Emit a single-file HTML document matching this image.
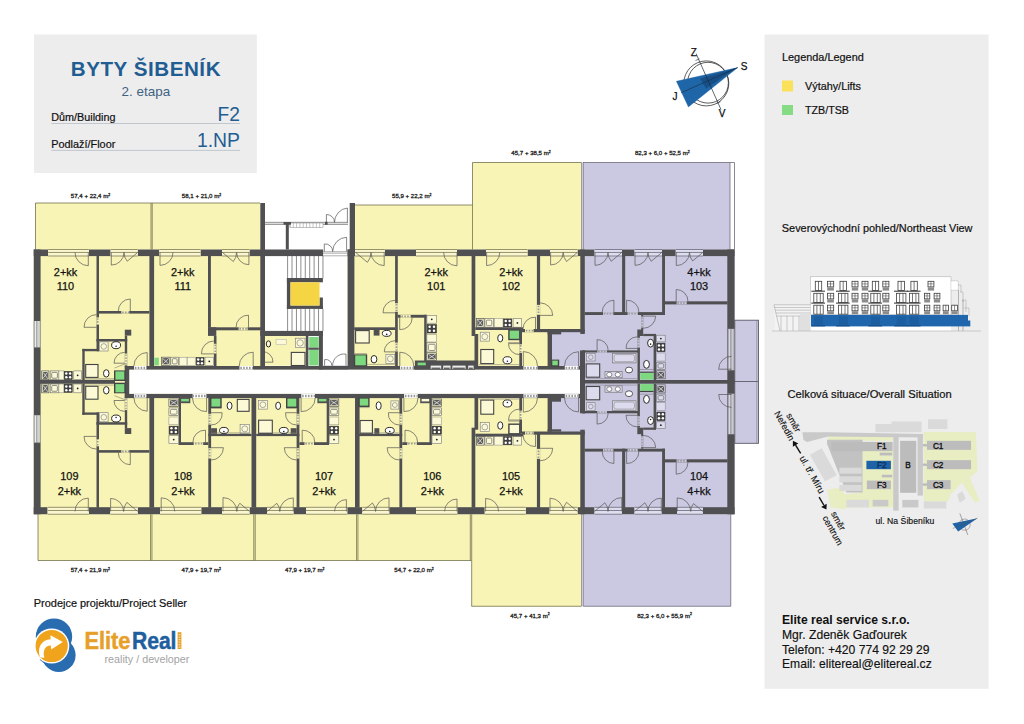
<!DOCTYPE html>
<html><head><meta charset="utf-8"><title>Byty Šibeník</title><style>html,body{margin:0;padding:0;background:#fff}svg{display:block}</style></head><body>
<svg width="1024" height="724" viewBox="0 0 1024 724" font-family="'Liberation Sans', sans-serif">
<rect width="1024" height="724" fill="#fff"/>
<rect x="34.00" y="34.50" width="222.80" height="138.50" fill="#ededed" />
<text x="70.80" y="76.00" font-size="20.6" fill="#1f5d92" font-weight="bold" textLength="149.70" lengthAdjust="spacing" >BYTY ŠIBENÍK</text>
<text x="121.60" y="95.60" font-size="13" fill="#3f6283" font-weight="normal" textLength="48.60" lengthAdjust="spacingAndGlyphs" >2. etapa</text>
<text x="51.30" y="120.80" font-size="10.85" fill="#111" font-weight="normal" textLength="64.20" lengthAdjust="spacingAndGlyphs" stroke="#111" stroke-width="0.2">Dům/Building</text>
<text x="217.60" y="120.70" font-size="19.6" fill="#1f5d92" font-weight="normal" textLength="22.40" lengthAdjust="spacingAndGlyphs" >F2</text>
<line x1="51.30" y1="123.50" x2="240.00" y2="123.50" stroke="#b4bcc6" stroke-width="0.8" />
<text x="51.30" y="147.50" font-size="10.85" fill="#111" font-weight="normal" textLength="64.00" lengthAdjust="spacingAndGlyphs" stroke="#111" stroke-width="0.2">Podlaží/Floor</text>
<text x="196.90" y="147.40" font-size="19.6" fill="#1f5d92" font-weight="normal" textLength="43.10" lengthAdjust="spacingAndGlyphs" >1.NP</text>
<line x1="51.30" y1="150.40" x2="240.00" y2="150.40" stroke="#b4bcc6" stroke-width="0.8" />
<rect x="764.50" y="34.50" width="224.10" height="654.30" fill="#ededed" />
<text x="782.00" y="61.30" font-size="10.9" fill="#111" font-weight="normal" textLength="81.80" lengthAdjust="spacingAndGlyphs" stroke="#111" stroke-width="0.2">Legenda/Legend</text>
<rect x="782.00" y="80.50" width="11.00" height="11.00" fill="#fbe15a" />
<text x="805.00" y="89.60" font-size="10.9" fill="#111" font-weight="normal" textLength="56.00" lengthAdjust="spacingAndGlyphs" stroke="#111" stroke-width="0.2">Výtahy/Lifts</text>
<rect x="782.00" y="105.00" width="11.00" height="10.00" fill="#85dc85" />
<text x="805.00" y="113.80" font-size="10.9" fill="#111" font-weight="normal" textLength="44.00" lengthAdjust="spacingAndGlyphs" stroke="#111" stroke-width="0.2">TZB/TSB</text>
<text x="781.80" y="231.80" font-size="10.9" fill="#111" font-weight="normal" textLength="190.70" lengthAdjust="spacingAndGlyphs" stroke="#111" stroke-width="0.2">Severovýchodní pohled/Northeast View</text>
<text x="787.50" y="397.80" font-size="11.1" fill="#111" font-weight="normal" textLength="164.30" lengthAdjust="spacingAndGlyphs" stroke="#111" stroke-width="0.2">Celková situace/Overall Situation</text>
<text x="782.00" y="624.40" font-size="12.14" fill="#111" font-weight="bold" textLength="127.70" lengthAdjust="spacingAndGlyphs" >Elite real service s.r.o.</text>
<text x="782.00" y="638.90" font-size="12.14" fill="#111" font-weight="normal" textLength="124.80" lengthAdjust="spacingAndGlyphs" stroke="#111" stroke-width="0.15">Mgr. Zdeněk Gaďourek</text>
<text x="782.00" y="653.50" font-size="12.14" fill="#111" font-weight="normal" textLength="147.60" lengthAdjust="spacingAndGlyphs" stroke="#111" stroke-width="0.15">Telefon: +420 774 92 29 29</text>
<text x="782.00" y="667.90" font-size="12.14" fill="#111" font-weight="normal" textLength="149.70" lengthAdjust="spacingAndGlyphs" stroke="#111" stroke-width="0.15">Email: elitereal@elitereal.cz</text>
<circle cx="706.30" cy="83.40" r="22.50" fill="none" stroke="#333" stroke-width="0.8"/>
<circle cx="708.00" cy="82.70" r="20.40" fill="none" stroke="#333" stroke-width="0.8"/>
<path d="M737.7,67.6 L676.4,81.3 L688.4,106.9 Z" fill="#1f66a8" stroke="#1f66a8" stroke-width="0.4" />
<path d="M737.7,67.6 L700,78.5 L706,88.5 Z" fill="#174f88" stroke="none" stroke-width="0" />
<line x1="696.10" y1="53.70" x2="721.00" y2="109.60" stroke="#1a2a3a" stroke-width="0.7" />
<line x1="695.50" y1="60.50" x2="699.50" y2="58.80" stroke="#1a2a3a" stroke-width="0.6" />
<line x1="716.50" y1="103.50" x2="720.50" y2="101.80" stroke="#1a2a3a" stroke-width="0.6" />
<line x1="681.10" y1="92.80" x2="737.70" y2="67.60" stroke="#1a2a3a" stroke-width="0.6" />
<text x="693.80" y="55.80" font-size="10" text-anchor="middle" fill="#111" font-weight="normal" stroke="#111" stroke-width="0.25">Z</text>
<text x="744.20" y="69.50" font-size="10" text-anchor="middle" fill="#111" font-weight="normal" stroke="#111" stroke-width="0.25">S</text>
<text x="674.90" y="100.20" font-size="10" text-anchor="middle" fill="#111" font-weight="normal" stroke="#111" stroke-width="0.25">J</text>
<text x="722.20" y="117.00" font-size="10" text-anchor="middle" fill="#111" font-weight="normal" stroke="#111" stroke-width="0.25">V</text>
<rect x="35.50" y="203.00" width="224.50" height="46.50" fill="#f8f4b5" />
<rect x="354.75" y="205.00" width="117.75" height="44.50" fill="#f8f4b5" />
<rect x="472.50" y="162.50" width="109.00" height="87.00" fill="#f8f4b5" />
<rect x="583.00" y="162.50" width="147.00" height="87.00" fill="#cbc9e1" />
<rect x="38.00" y="514.25" width="433.50" height="46.25" fill="#f8f4b5" />
<rect x="471.50" y="514.25" width="110.00" height="92.00" fill="#f8f4b5" />
<rect x="583.25" y="514.25" width="147.50" height="92.00" fill="#cbc9e1" />
<rect x="33.75" y="249.50" width="547.75" height="264.75" fill="#f8f4b5" />
<rect x="581.50" y="249.50" width="153.00" height="264.75" fill="#cbc9e1" />
<rect x="549.00" y="330.00" width="36.00" height="103.70" fill="#cbc9e1" />
<rect x="734.50" y="320.00" width="24.00" height="123.50" fill="#cbc9e1" />
<rect x="265.00" y="203.00" width="82.60" height="163.00" fill="#fff" />
<rect x="262.50" y="336.00" width="43.30" height="29.70" fill="#f8f4b5" />
<rect x="129.20" y="369.50" width="450.80" height="24.40" fill="#fff" />
<line x1="35.50" y1="203.00" x2="260.00" y2="203.00" stroke="#74724c" stroke-width="0.8" />
<line x1="35.50" y1="203.00" x2="35.50" y2="249.50" stroke="#74724c" stroke-width="0.8" />
<line x1="151.00" y1="203.00" x2="151.00" y2="249.50" stroke="#74724c" stroke-width="0.8" />
<line x1="152.20" y1="203.00" x2="152.20" y2="249.50" stroke="#74724c" stroke-width="0.8" />
<line x1="354.75" y1="205.00" x2="472.50" y2="205.00" stroke="#74724c" stroke-width="0.8" />
<line x1="472.50" y1="162.50" x2="472.50" y2="249.50" stroke="#74724c" stroke-width="0.8" />
<line x1="472.50" y1="162.50" x2="581.50" y2="162.50" stroke="#74724c" stroke-width="0.8" />
<line x1="583.00" y1="162.50" x2="734.50" y2="162.50" stroke="#6c6c78" stroke-width="0.8" />
<line x1="734.50" y1="162.50" x2="734.50" y2="249.50" stroke="#6c6c78" stroke-width="0.8" />
<line x1="730.00" y1="162.50" x2="730.00" y2="249.50" stroke="#6c6c78" stroke-width="0.8" />
<line x1="581.70" y1="162.50" x2="581.70" y2="249.50" stroke="#6c6c78" stroke-width="0.8" />
<line x1="583.20" y1="162.50" x2="583.20" y2="249.50" stroke="#6c6c78" stroke-width="0.8" />
<line x1="38.00" y1="514.25" x2="38.00" y2="560.50" stroke="#74724c" stroke-width="0.8" />
<line x1="38.00" y1="560.50" x2="471.50" y2="560.50" stroke="#74724c" stroke-width="0.8" />
<line x1="150.55" y1="514.25" x2="150.55" y2="560.50" stroke="#74724c" stroke-width="0.8" />
<line x1="151.95" y1="514.25" x2="151.95" y2="560.50" stroke="#74724c" stroke-width="0.8" />
<line x1="253.80" y1="514.25" x2="253.80" y2="560.50" stroke="#74724c" stroke-width="0.8" />
<line x1="255.20" y1="514.25" x2="255.20" y2="560.50" stroke="#74724c" stroke-width="0.8" />
<line x1="356.55" y1="514.25" x2="356.55" y2="560.50" stroke="#74724c" stroke-width="0.8" />
<line x1="357.95" y1="514.25" x2="357.95" y2="560.50" stroke="#74724c" stroke-width="0.8" />
<line x1="470.30" y1="514.25" x2="470.30" y2="560.50" stroke="#74724c" stroke-width="0.8" />
<line x1="471.70" y1="514.25" x2="471.70" y2="606.25" stroke="#74724c" stroke-width="0.8" />
<line x1="471.50" y1="606.25" x2="581.50" y2="606.25" stroke="#74724c" stroke-width="0.8" />
<line x1="581.70" y1="514.25" x2="581.70" y2="606.25" stroke="#6c6c78" stroke-width="0.8" />
<line x1="583.20" y1="514.25" x2="583.20" y2="606.25" stroke="#6c6c78" stroke-width="0.8" />
<line x1="583.25" y1="606.25" x2="730.75" y2="606.25" stroke="#6c6c78" stroke-width="0.8" />
<line x1="730.75" y1="514.25" x2="730.75" y2="606.25" stroke="#6c6c78" stroke-width="0.8" />
<rect x="734.80" y="320.20" width="23.70" height="123.10" fill="none" stroke="#5c5c68" stroke-width="0.9" rx="0"/>
<line x1="734.50" y1="381.50" x2="758.50" y2="381.50" stroke="#5c5c68" stroke-width="0.9" />
<line x1="756.80" y1="320.00" x2="756.80" y2="443.50" stroke="#6a6a72" stroke-width="0.5" />
<line x1="265.00" y1="222.40" x2="348.00" y2="222.40" stroke="#777" stroke-width="0.6" />
<line x1="265.00" y1="224.40" x2="348.00" y2="224.40" stroke="#777" stroke-width="0.6" />
<rect x="265.00" y="222.40" width="83.00" height="2.00" fill="#e4e4e4" />
<line x1="265.00" y1="222.40" x2="348.00" y2="222.40" stroke="#777" stroke-width="0.6" />
<line x1="265.00" y1="224.40" x2="348.00" y2="224.40" stroke="#777" stroke-width="0.6" />
<rect x="290.00" y="223.00" width="33.00" height="4.50" fill="#fff" stroke="#888" stroke-width="0.5" rx="0"/>
<line x1="290.00" y1="223.00" x2="290.00" y2="227.50" stroke="#888" stroke-width="0.5" />
<line x1="293.30" y1="223.00" x2="293.30" y2="227.50" stroke="#888" stroke-width="0.5" />
<line x1="296.60" y1="223.00" x2="296.60" y2="227.50" stroke="#888" stroke-width="0.5" />
<line x1="299.90" y1="223.00" x2="299.90" y2="227.50" stroke="#888" stroke-width="0.5" />
<line x1="303.20" y1="223.00" x2="303.20" y2="227.50" stroke="#888" stroke-width="0.5" />
<line x1="306.50" y1="223.00" x2="306.50" y2="227.50" stroke="#888" stroke-width="0.5" />
<line x1="309.80" y1="223.00" x2="309.80" y2="227.50" stroke="#888" stroke-width="0.5" />
<line x1="313.10" y1="223.00" x2="313.10" y2="227.50" stroke="#888" stroke-width="0.5" />
<line x1="316.40" y1="223.00" x2="316.40" y2="227.50" stroke="#888" stroke-width="0.5" />
<line x1="319.70" y1="223.00" x2="319.70" y2="227.50" stroke="#888" stroke-width="0.5" />
<rect x="285.80" y="222.40" width="3.00" height="27.10" fill="#505052" />
<rect x="283.50" y="222.00" width="7.50" height="2.60" fill="#505052" />
<rect x="325.00" y="221.80" width="2.60" height="3.00" fill="#505052" />
<path d="M347.40,222.40 L347.40,208.00 A14.40,14.40 0 0 0 334.50,222.40" fill="none" stroke="#555" stroke-width="0.7" />
<path d="M326.40,222.40 L326.40,214.50 A7.90,7.90 0 0 1 334.50,222.40" fill="none" stroke="#555" stroke-width="0.7" />
<rect x="323.10" y="251.50" width="24.50" height="4.50" fill="#fff" />
<line x1="323.10" y1="251.70" x2="347.60" y2="251.70" stroke="#777" stroke-width="0.6" />
<line x1="323.10" y1="253.20" x2="347.60" y2="253.20" stroke="#777" stroke-width="0.6" />
<line x1="323.10" y1="255.80" x2="347.60" y2="255.80" stroke="#777" stroke-width="0.6" />
<path d="M346.60,251.50 L346.60,237.30 A14.20,14.20 0 0 0 332.70,251.50" fill="none" stroke="#555" stroke-width="0.7" />
<path d="M324.30,251.50 L324.30,244.00 A7.50,7.50 0 0 1 332.70,251.50" fill="none" stroke="#555" stroke-width="0.7" />
<line x1="287.60" y1="256.00" x2="287.60" y2="278.30" stroke="#707070" stroke-width="0.8" />
<line x1="287.60" y1="308.90" x2="287.60" y2="331.00" stroke="#707070" stroke-width="0.8" />
<line x1="292.02" y1="256.00" x2="292.02" y2="278.30" stroke="#707070" stroke-width="0.8" />
<line x1="292.02" y1="308.90" x2="292.02" y2="331.00" stroke="#707070" stroke-width="0.8" />
<line x1="296.44" y1="256.00" x2="296.44" y2="278.30" stroke="#707070" stroke-width="0.8" />
<line x1="296.44" y1="308.90" x2="296.44" y2="331.00" stroke="#707070" stroke-width="0.8" />
<line x1="300.86" y1="256.00" x2="300.86" y2="278.30" stroke="#707070" stroke-width="0.8" />
<line x1="300.86" y1="308.90" x2="300.86" y2="331.00" stroke="#707070" stroke-width="0.8" />
<line x1="305.28" y1="256.00" x2="305.28" y2="278.30" stroke="#707070" stroke-width="0.8" />
<line x1="305.28" y1="308.90" x2="305.28" y2="331.00" stroke="#707070" stroke-width="0.8" />
<line x1="309.70" y1="256.00" x2="309.70" y2="278.30" stroke="#707070" stroke-width="0.8" />
<line x1="309.70" y1="308.90" x2="309.70" y2="331.00" stroke="#707070" stroke-width="0.8" />
<line x1="314.12" y1="256.00" x2="314.12" y2="278.30" stroke="#707070" stroke-width="0.8" />
<line x1="314.12" y1="308.90" x2="314.12" y2="331.00" stroke="#707070" stroke-width="0.8" />
<line x1="318.54" y1="256.00" x2="318.54" y2="278.30" stroke="#707070" stroke-width="0.8" />
<line x1="318.54" y1="308.90" x2="318.54" y2="331.00" stroke="#707070" stroke-width="0.8" />
<line x1="322.96" y1="256.00" x2="322.96" y2="278.30" stroke="#707070" stroke-width="0.8" />
<line x1="322.96" y1="308.90" x2="322.96" y2="331.00" stroke="#707070" stroke-width="0.8" />
<rect x="286.90" y="278.00" width="36.00" height="4.30" fill="#505052" />
<rect x="286.90" y="278.00" width="3.60" height="30.90" fill="#505052" />
<rect x="286.90" y="305.50" width="36.00" height="3.40" fill="#505052" />
<rect x="319.50" y="297.50" width="3.40" height="11.40" fill="#505052" />
<rect x="290.50" y="282.30" width="29.00" height="23.20" fill="#f6d545" />
<rect x="260.30" y="330.90" width="62.60" height="5.10" fill="#505052" />
<rect x="318.80" y="331.00" width="4.10" height="38.60" fill="#505052" />
<rect x="305.80" y="336.00" width="2.60" height="30.00" fill="#505052" />
<rect x="309.20" y="336.90" width="9.40" height="10.70" fill="#7dd87f" />
<rect x="309.20" y="349.80" width="9.40" height="15.70" fill="#7dd87f" />
<rect x="308.40" y="347.60" width="10.40" height="2.20" fill="#555" />
<ellipse cx="268.45" cy="343.90" rx="2.15" ry="3.10" fill="#fbf9d6" stroke="#2a2a2a" stroke-width="1.0"/>
<rect x="276.00" y="339.60" width="10.20" height="5.10" fill="#fbf9d6" stroke="#aaa" stroke-width="0.5" rx="0"/>
<rect x="295.30" y="338.20" width="9.70" height="9.40" fill="#fbf9d6" stroke="#777" stroke-width="0.6" rx="0"/>
<circle cx="300.15" cy="342.90" r="3.20" fill="none" stroke="#777" stroke-width="0.6"/>
<rect x="291.30" y="352.40" width="13.70" height="13.10" fill="#fbf9d6" stroke="#444" stroke-width="1.1" rx="0"/>
<rect x="322.90" y="365.70" width="24.90" height="4.10" fill="#fff" />
<line x1="322.90" y1="366.00" x2="347.80" y2="366.00" stroke="#777" stroke-width="0.5" />
<line x1="322.90" y1="369.40" x2="347.80" y2="369.40" stroke="#777" stroke-width="0.5" />
<path d="M346.00,365.70 L346.00,354.10 A11.60,11.60 0 0 0 332.60,365.70" fill="none" stroke="#555" stroke-width="0.7" />
<path d="M324.60,365.70 L324.60,359.60 A6.10,6.10 0 0 1 331.90,365.70" fill="none" stroke="#555" stroke-width="0.7" />
<rect x="260.30" y="353.00" width="4.70" height="9.20" fill="#f8f4b5" />
<line x1="262.65" y1="353.80" x2="262.65" y2="362.20" stroke="#9a9a9a" stroke-width="2.819999999999993" stroke-dasharray="1.6 1.3"/>
<path d="M262.60,362.20 L273.00,362.20 A10.40,10.40 0 0 0 262.60,351.60" fill="none" stroke="#555" stroke-width="0.7" />
<rect x="33.75" y="249.50" width="14.45" height="6.60" fill="#505052" />
<rect x="88.90" y="249.50" width="21.70" height="6.60" fill="#505052" />
<rect x="137.70" y="249.50" width="21.60" height="6.60" fill="#505052" />
<rect x="200.50" y="249.50" width="21.50" height="6.60" fill="#505052" />
<rect x="249.50" y="249.50" width="73.60" height="6.60" fill="#505052" />
<rect x="347.60" y="249.50" width="7.40" height="6.60" fill="#505052" />
<rect x="384.75" y="249.50" width="31.25" height="6.60" fill="#505052" />
<rect x="457.00" y="249.50" width="29.00" height="6.60" fill="#505052" />
<rect x="527.50" y="249.50" width="22.50" height="6.60" fill="#505052" />
<rect x="577.50" y="249.50" width="17.00" height="6.60" fill="#505052" />
<rect x="622.00" y="249.50" width="12.50" height="6.60" fill="#505052" />
<rect x="662.00" y="249.50" width="13.75" height="6.60" fill="#505052" />
<rect x="703.00" y="249.50" width="31.50" height="6.60" fill="#505052" />
<rect x="48.20" y="249.10" width="40.70" height="7.30" fill="#f9f6d0" />
<line x1="48.20" y1="249.50" x2="88.90" y2="249.50" stroke="#7c7a50" stroke-width="0.8" />
<line x1="48.20" y1="252.45" x2="88.90" y2="252.45" stroke="#7c7a50" stroke-width="0.8" />
<line x1="48.20" y1="256.00" x2="88.90" y2="256.00" stroke="#7c7a50" stroke-width="0.8" />
<rect x="110.60" y="249.10" width="27.10" height="7.30" fill="#f9f6d0" />
<line x1="110.60" y1="249.50" x2="137.70" y2="249.50" stroke="#7c7a50" stroke-width="0.8" />
<line x1="110.60" y1="252.45" x2="137.70" y2="252.45" stroke="#7c7a50" stroke-width="0.8" />
<line x1="110.60" y1="256.00" x2="137.70" y2="256.00" stroke="#7c7a50" stroke-width="0.8" />
<rect x="159.30" y="249.10" width="41.20" height="7.30" fill="#f9f6d0" />
<line x1="159.30" y1="249.50" x2="200.50" y2="249.50" stroke="#7c7a50" stroke-width="0.8" />
<line x1="159.30" y1="252.45" x2="200.50" y2="252.45" stroke="#7c7a50" stroke-width="0.8" />
<line x1="159.30" y1="256.00" x2="200.50" y2="256.00" stroke="#7c7a50" stroke-width="0.8" />
<rect x="222.00" y="249.10" width="27.50" height="7.30" fill="#f9f6d0" />
<line x1="222.00" y1="249.50" x2="249.50" y2="249.50" stroke="#7c7a50" stroke-width="0.8" />
<line x1="222.00" y1="252.45" x2="249.50" y2="252.45" stroke="#7c7a50" stroke-width="0.8" />
<line x1="222.00" y1="256.00" x2="249.50" y2="256.00" stroke="#7c7a50" stroke-width="0.8" />
<rect x="355.00" y="249.10" width="29.75" height="7.30" fill="#f9f6d0" />
<line x1="355.00" y1="249.50" x2="384.75" y2="249.50" stroke="#7c7a50" stroke-width="0.8" />
<line x1="355.00" y1="252.45" x2="384.75" y2="252.45" stroke="#7c7a50" stroke-width="0.8" />
<line x1="355.00" y1="256.00" x2="384.75" y2="256.00" stroke="#7c7a50" stroke-width="0.8" />
<rect x="416.00" y="249.10" width="41.00" height="7.30" fill="#f9f6d0" />
<line x1="416.00" y1="249.50" x2="457.00" y2="249.50" stroke="#7c7a50" stroke-width="0.8" />
<line x1="416.00" y1="252.45" x2="457.00" y2="252.45" stroke="#7c7a50" stroke-width="0.8" />
<line x1="416.00" y1="256.00" x2="457.00" y2="256.00" stroke="#7c7a50" stroke-width="0.8" />
<rect x="486.00" y="249.10" width="41.50" height="7.30" fill="#f9f6d0" />
<line x1="486.00" y1="249.50" x2="527.50" y2="249.50" stroke="#7c7a50" stroke-width="0.8" />
<line x1="486.00" y1="252.45" x2="527.50" y2="252.45" stroke="#7c7a50" stroke-width="0.8" />
<line x1="486.00" y1="256.00" x2="527.50" y2="256.00" stroke="#7c7a50" stroke-width="0.8" />
<rect x="550.00" y="249.10" width="27.50" height="7.30" fill="#f9f6d0" />
<line x1="550.00" y1="249.50" x2="577.50" y2="249.50" stroke="#7c7a50" stroke-width="0.8" />
<line x1="550.00" y1="252.45" x2="577.50" y2="252.45" stroke="#7c7a50" stroke-width="0.8" />
<line x1="550.00" y1="256.00" x2="577.50" y2="256.00" stroke="#7c7a50" stroke-width="0.8" />
<rect x="594.50" y="249.10" width="27.50" height="7.30" fill="#dfdeee" />
<line x1="594.50" y1="249.50" x2="622.00" y2="249.50" stroke="#66667a" stroke-width="0.8" />
<line x1="594.50" y1="252.45" x2="622.00" y2="252.45" stroke="#66667a" stroke-width="0.8" />
<line x1="594.50" y1="256.00" x2="622.00" y2="256.00" stroke="#66667a" stroke-width="0.8" />
<rect x="634.50" y="249.10" width="27.50" height="7.30" fill="#dfdeee" />
<line x1="634.50" y1="249.50" x2="662.00" y2="249.50" stroke="#66667a" stroke-width="0.8" />
<line x1="634.50" y1="252.45" x2="662.00" y2="252.45" stroke="#66667a" stroke-width="0.8" />
<line x1="634.50" y1="256.00" x2="662.00" y2="256.00" stroke="#66667a" stroke-width="0.8" />
<rect x="675.75" y="249.10" width="27.25" height="7.30" fill="#dfdeee" />
<line x1="675.75" y1="249.50" x2="703.00" y2="249.50" stroke="#66667a" stroke-width="0.8" />
<line x1="675.75" y1="252.45" x2="703.00" y2="252.45" stroke="#66667a" stroke-width="0.8" />
<line x1="675.75" y1="256.00" x2="703.00" y2="256.00" stroke="#66667a" stroke-width="0.8" />
<rect x="33.75" y="507.20" width="13.85" height="7.05" fill="#505052" />
<rect x="88.90" y="507.20" width="21.40" height="7.05" fill="#505052" />
<rect x="137.70" y="507.20" width="22.30" height="7.05" fill="#505052" />
<rect x="201.25" y="507.20" width="20.75" height="7.05" fill="#505052" />
<rect x="249.50" y="507.20" width="17.50" height="7.05" fill="#505052" />
<rect x="293.50" y="507.20" width="12.50" height="7.05" fill="#505052" />
<rect x="347.25" y="507.20" width="15.00" height="7.05" fill="#505052" />
<rect x="389.25" y="507.20" width="26.75" height="7.05" fill="#505052" />
<rect x="457.25" y="507.20" width="27.50" height="7.05" fill="#505052" />
<rect x="525.75" y="507.20" width="23.75" height="7.05" fill="#505052" />
<rect x="577.50" y="507.20" width="17.00" height="7.05" fill="#505052" />
<rect x="622.00" y="507.20" width="12.50" height="7.05" fill="#505052" />
<rect x="661.50" y="507.20" width="15.50" height="7.05" fill="#505052" />
<rect x="703.00" y="507.20" width="31.50" height="7.05" fill="#505052" />
<rect x="47.60" y="506.90" width="41.30" height="7.75" fill="#f9f6d0" />
<line x1="47.60" y1="507.30" x2="88.90" y2="507.30" stroke="#7c7a50" stroke-width="0.8" />
<line x1="47.60" y1="510.47" x2="88.90" y2="510.47" stroke="#7c7a50" stroke-width="0.8" />
<line x1="47.60" y1="514.25" x2="88.90" y2="514.25" stroke="#7c7a50" stroke-width="0.8" />
<rect x="110.30" y="506.90" width="27.40" height="7.75" fill="#f9f6d0" />
<line x1="110.30" y1="507.30" x2="137.70" y2="507.30" stroke="#7c7a50" stroke-width="0.8" />
<line x1="110.30" y1="510.47" x2="137.70" y2="510.47" stroke="#7c7a50" stroke-width="0.8" />
<line x1="110.30" y1="514.25" x2="137.70" y2="514.25" stroke="#7c7a50" stroke-width="0.8" />
<rect x="160.00" y="506.90" width="41.25" height="7.75" fill="#f9f6d0" />
<line x1="160.00" y1="507.30" x2="201.25" y2="507.30" stroke="#7c7a50" stroke-width="0.8" />
<line x1="160.00" y1="510.47" x2="201.25" y2="510.47" stroke="#7c7a50" stroke-width="0.8" />
<line x1="160.00" y1="514.25" x2="201.25" y2="514.25" stroke="#7c7a50" stroke-width="0.8" />
<rect x="222.00" y="506.90" width="27.50" height="7.75" fill="#f9f6d0" />
<line x1="222.00" y1="507.30" x2="249.50" y2="507.30" stroke="#7c7a50" stroke-width="0.8" />
<line x1="222.00" y1="510.47" x2="249.50" y2="510.47" stroke="#7c7a50" stroke-width="0.8" />
<line x1="222.00" y1="514.25" x2="249.50" y2="514.25" stroke="#7c7a50" stroke-width="0.8" />
<rect x="267.00" y="506.90" width="26.50" height="7.75" fill="#f9f6d0" />
<line x1="267.00" y1="507.30" x2="293.50" y2="507.30" stroke="#7c7a50" stroke-width="0.8" />
<line x1="267.00" y1="510.47" x2="293.50" y2="510.47" stroke="#7c7a50" stroke-width="0.8" />
<line x1="267.00" y1="514.25" x2="293.50" y2="514.25" stroke="#7c7a50" stroke-width="0.8" />
<rect x="306.00" y="506.90" width="41.25" height="7.75" fill="#f9f6d0" />
<line x1="306.00" y1="507.30" x2="347.25" y2="507.30" stroke="#7c7a50" stroke-width="0.8" />
<line x1="306.00" y1="510.47" x2="347.25" y2="510.47" stroke="#7c7a50" stroke-width="0.8" />
<line x1="306.00" y1="514.25" x2="347.25" y2="514.25" stroke="#7c7a50" stroke-width="0.8" />
<rect x="362.25" y="506.90" width="27.00" height="7.75" fill="#f9f6d0" />
<line x1="362.25" y1="507.30" x2="389.25" y2="507.30" stroke="#7c7a50" stroke-width="0.8" />
<line x1="362.25" y1="510.47" x2="389.25" y2="510.47" stroke="#7c7a50" stroke-width="0.8" />
<line x1="362.25" y1="514.25" x2="389.25" y2="514.25" stroke="#7c7a50" stroke-width="0.8" />
<rect x="416.00" y="506.90" width="41.25" height="7.75" fill="#f9f6d0" />
<line x1="416.00" y1="507.30" x2="457.25" y2="507.30" stroke="#7c7a50" stroke-width="0.8" />
<line x1="416.00" y1="510.47" x2="457.25" y2="510.47" stroke="#7c7a50" stroke-width="0.8" />
<line x1="416.00" y1="514.25" x2="457.25" y2="514.25" stroke="#7c7a50" stroke-width="0.8" />
<rect x="484.75" y="506.90" width="41.00" height="7.75" fill="#f9f6d0" />
<line x1="484.75" y1="507.30" x2="525.75" y2="507.30" stroke="#7c7a50" stroke-width="0.8" />
<line x1="484.75" y1="510.47" x2="525.75" y2="510.47" stroke="#7c7a50" stroke-width="0.8" />
<line x1="484.75" y1="514.25" x2="525.75" y2="514.25" stroke="#7c7a50" stroke-width="0.8" />
<rect x="549.50" y="506.90" width="28.00" height="7.75" fill="#f9f6d0" />
<line x1="549.50" y1="507.30" x2="577.50" y2="507.30" stroke="#7c7a50" stroke-width="0.8" />
<line x1="549.50" y1="510.47" x2="577.50" y2="510.47" stroke="#7c7a50" stroke-width="0.8" />
<line x1="549.50" y1="514.25" x2="577.50" y2="514.25" stroke="#7c7a50" stroke-width="0.8" />
<rect x="594.50" y="506.90" width="27.50" height="7.75" fill="#dfdeee" />
<line x1="594.50" y1="507.30" x2="622.00" y2="507.30" stroke="#66667a" stroke-width="0.8" />
<line x1="594.50" y1="510.47" x2="622.00" y2="510.47" stroke="#66667a" stroke-width="0.8" />
<line x1="594.50" y1="514.25" x2="622.00" y2="514.25" stroke="#66667a" stroke-width="0.8" />
<rect x="634.50" y="506.90" width="27.00" height="7.75" fill="#dfdeee" />
<line x1="634.50" y1="507.30" x2="661.50" y2="507.30" stroke="#66667a" stroke-width="0.8" />
<line x1="634.50" y1="510.47" x2="661.50" y2="510.47" stroke="#66667a" stroke-width="0.8" />
<line x1="634.50" y1="514.25" x2="661.50" y2="514.25" stroke="#66667a" stroke-width="0.8" />
<rect x="677.00" y="506.90" width="26.00" height="7.75" fill="#dfdeee" />
<line x1="677.00" y1="507.30" x2="703.00" y2="507.30" stroke="#66667a" stroke-width="0.8" />
<line x1="677.00" y1="510.47" x2="703.00" y2="510.47" stroke="#66667a" stroke-width="0.8" />
<line x1="677.00" y1="514.25" x2="703.00" y2="514.25" stroke="#66667a" stroke-width="0.8" />
<rect x="33.75" y="249.50" width="6.85" height="264.75" fill="#505052" />
<rect x="33.90" y="321.00" width="6.50" height="26.30" fill="#fbfbf4" />
<line x1="34.30" y1="321.00" x2="34.30" y2="347.30" stroke="#77777a" stroke-width="0.7" />
<line x1="36.37" y1="321.00" x2="36.37" y2="347.30" stroke="#77777a" stroke-width="0.7" />
<line x1="37.93" y1="321.00" x2="37.93" y2="347.30" stroke="#77777a" stroke-width="0.7" />
<line x1="40.00" y1="321.00" x2="40.00" y2="347.30" stroke="#77777a" stroke-width="0.7" />
<rect x="33.90" y="415.30" width="6.50" height="27.20" fill="#fbfbf4" />
<line x1="34.30" y1="415.30" x2="34.30" y2="442.50" stroke="#77777a" stroke-width="0.7" />
<line x1="36.37" y1="415.30" x2="36.37" y2="442.50" stroke="#77777a" stroke-width="0.7" />
<line x1="37.93" y1="415.30" x2="37.93" y2="442.50" stroke="#77777a" stroke-width="0.7" />
<line x1="40.00" y1="415.30" x2="40.00" y2="442.50" stroke="#77777a" stroke-width="0.7" />
<rect x="727.30" y="249.50" width="7.30" height="264.75" fill="#505052" />
<rect x="727.90" y="328.90" width="6.40" height="41.30" fill="#e4e3f2" />
<line x1="728.30" y1="328.90" x2="728.30" y2="370.20" stroke="#77777a" stroke-width="0.7" />
<line x1="730.33" y1="328.90" x2="730.33" y2="370.20" stroke="#77777a" stroke-width="0.7" />
<line x1="731.87" y1="328.90" x2="731.87" y2="370.20" stroke="#77777a" stroke-width="0.7" />
<line x1="733.90" y1="328.90" x2="733.90" y2="370.20" stroke="#77777a" stroke-width="0.7" />
<rect x="727.90" y="393.80" width="6.40" height="40.40" fill="#e4e3f2" />
<line x1="728.30" y1="393.80" x2="728.30" y2="434.20" stroke="#77777a" stroke-width="0.7" />
<line x1="730.33" y1="393.80" x2="730.33" y2="434.20" stroke="#77777a" stroke-width="0.7" />
<line x1="731.87" y1="393.80" x2="731.87" y2="434.20" stroke="#77777a" stroke-width="0.7" />
<line x1="733.90" y1="393.80" x2="733.90" y2="434.20" stroke="#77777a" stroke-width="0.7" />
<rect x="149.40" y="256.00" width="4.70" height="110.50" fill="#505052" />
<rect x="149.40" y="397.50" width="4.70" height="110.10" fill="#505052" />
<rect x="260.30" y="203.00" width="4.70" height="163.50" fill="#505052" />
<rect x="349.70" y="203.00" width="5.30" height="48.50" fill="#505052" />
<rect x="347.60" y="249.50" width="6.80" height="117.00" fill="#505052" />
<rect x="251.50" y="397.50" width="4.70" height="110.10" fill="#505052" />
<rect x="355.00" y="397.50" width="4.60" height="110.10" fill="#505052" />
<rect x="471.60" y="256.00" width="3.70" height="80.00" fill="#505052" />
<rect x="474.50" y="334.00" width="3.70" height="32.50" fill="#505052" />
<rect x="471.60" y="427.70" width="3.70" height="79.90" fill="#505052" />
<rect x="474.50" y="397.50" width="3.70" height="32.20" fill="#505052" />
<rect x="580.30" y="249.50" width="4.50" height="84.50" fill="#505052" />
<rect x="580.30" y="429.70" width="4.50" height="84.55" fill="#505052" />
<rect x="124.80" y="366.00" width="455.20" height="3.60" fill="#505052" />
<rect x="124.80" y="393.90" width="455.20" height="4.20" fill="#505052" />
<rect x="124.80" y="366.00" width="4.40" height="32.00" fill="#505052" />
<rect x="40.00" y="379.80" width="75.00" height="4.00" fill="#505052" />
<rect x="582.60" y="380.00" width="151.90" height="3.70" fill="#505052" />
<rect x="96.50" y="256.00" width="2.50" height="95.25" fill="#505052" />
<rect x="96.50" y="317.40" width="2.50" height="7.20" fill="#f8f4b5" />
<line x1="97.75" y1="318.20" x2="97.75" y2="324.60" stroke="#9a9a9a" stroke-width="1.5" stroke-dasharray="1.6 1.3"/>
<rect x="99.00" y="311.00" width="50.40" height="2.60" fill="#505052" />
<rect x="121.30" y="311.00" width="7.90" height="2.60" fill="#f8f4b5" />
<line x1="122.10" y1="312.30" x2="129.20" y2="312.30" stroke="#9a9a9a" stroke-width="1.5600000000000136" stroke-dasharray="1.6 1.3"/>
<path d="M130.30,311.00 L130.30,299.00 A12.00,12.00 0 0 0 118.30,311.00" fill="none" stroke="#555" stroke-width="0.7" />
<path d="M96.50,327.30 L84.00,327.30 A12.50,12.50 0 0 1 96.50,314.60" fill="none" stroke="#555" stroke-width="0.7" />
<rect x="82.30" y="348.90" width="16.70" height="2.35" fill="#505052" />
<rect x="82.30" y="348.90" width="2.40" height="31.10" fill="#505052" />
<rect x="96.40" y="339.00" width="30.80" height="2.50" fill="#505052" />
<rect x="124.80" y="335.60" width="2.40" height="31.30" fill="#505052" />
<rect x="124.80" y="329.70" width="6.45" height="5.90" fill="#505052" />
<rect x="124.80" y="353.60" width="2.40" height="11.70" fill="#f8f4b5" />
<line x1="126.00" y1="354.40" x2="126.00" y2="365.30" stroke="#9a9a9a" stroke-width="1.4400000000000033" stroke-dasharray="1.6 1.3"/>
<rect x="99.50" y="341.90" width="8.60" height="9.10" fill="#fbf9d6" stroke="#777" stroke-width="0.6" rx="0"/>
<circle cx="103.80" cy="346.45" r="2.80" fill="none" stroke="#777" stroke-width="0.6"/>
<ellipse cx="116.10" cy="345.20" rx="4.50" ry="3.50" fill="#fff" stroke="#2a2a2a" stroke-width="1.0"/>
<circle cx="116.10" cy="346.20" r="0.80" fill="#222" stroke="none" stroke-width="0"/>
<path d="M124.80,363.20 L114.00,363.20 A10.80,10.80 0 0 1 124.80,352.30" fill="none" stroke="#555" stroke-width="0.7" />
<rect x="134.00" y="366.00" width="12.40" height="3.60" fill="#fff" />
<line x1="134.80" y1="367.80" x2="146.40" y2="367.80" stroke="#9a9a9a" stroke-width="2.1600000000000135" stroke-dasharray="1.6 1.3"/>
<path d="M147.20,366.00 L147.20,352.50 A13.50,13.50 0 0 0 133.90,366.00" fill="none" stroke="#555" stroke-width="0.7" />
<rect x="85.70" y="364.50" width="12.30" height="12.90" fill="#fbf9d6" stroke="#444" stroke-width="1.1" rx="0"/>
<line x1="85.00" y1="378.60" x2="115.00" y2="378.60" stroke="#777" stroke-width="0.5" />
<ellipse cx="106.25" cy="373.40" rx="2.75" ry="3.70" fill="#fff" stroke="#2a2a2a" stroke-width="1.0"/>
<rect x="114.00" y="370.40" width="11.70" height="10.60" fill="#444" />
<rect x="115.40" y="371.40" width="8.90" height="8.20" fill="#7dd87f" />
<line x1="114.50" y1="368.00" x2="124.80" y2="364.00" stroke="#666" stroke-width="0.5" />
<rect x="41.70" y="370.90" width="7.20" height="8.80" fill="#fbf9d6" stroke="#555" stroke-width="0.7" rx="0"/>
<rect x="43.10" y="372.30" width="4.40" height="6.00" fill="#666" stroke="#333" stroke-width="0.6" rx="0"/>
<line x1="43.10" y1="372.30" x2="47.50" y2="378.30" stroke="#eee" stroke-width="0.7" />
<line x1="43.10" y1="378.30" x2="47.50" y2="372.30" stroke="#eee" stroke-width="0.7" />
<rect x="50.20" y="370.90" width="8.70" height="8.80" fill="#fbf9d6" stroke="#666" stroke-width="0.6" rx="0"/>
<rect x="51.70" y="372.40" width="5.70" height="5.80" fill="#fbf9d6" stroke="#666" stroke-width="0.7" rx="1"/>
<rect x="58.90" y="370.90" width="5.10" height="8.80" fill="#fbf9d6" stroke="#888" stroke-width="0.5" rx="0"/>
<rect x="64.20" y="371.40" width="8.00" height="8.00" fill="#3e3e3e" stroke="#333" stroke-width="0.6" rx="0"/>
<circle cx="66.30" cy="373.50" r="1.25" fill="#fff" stroke="none" stroke-width="0"/>
<circle cx="66.30" cy="377.30" r="1.25" fill="#fff" stroke="none" stroke-width="0"/>
<circle cx="70.10" cy="373.50" r="1.25" fill="#fff" stroke="none" stroke-width="0"/>
<circle cx="70.10" cy="377.30" r="1.25" fill="#fff" stroke="none" stroke-width="0"/>
<rect x="73.75" y="370.90" width="7.85" height="8.80" fill="#fbf9d6" stroke="#777" stroke-width="0.6" rx="0"/>
<circle cx="77.67" cy="375.30" r="0.90" fill="#222" stroke="none" stroke-width="0"/>
<rect x="96.50" y="412.45" width="2.50" height="95.25" fill="#505052" />
<rect x="96.50" y="439.10" width="2.50" height="7.20" fill="#f8f4b5" />
<line x1="97.75" y1="445.50" x2="97.75" y2="439.10" stroke="#9a9a9a" stroke-width="1.5" stroke-dasharray="1.6 1.3"/>
<rect x="99.00" y="450.10" width="50.40" height="2.60" fill="#505052" />
<rect x="121.30" y="450.10" width="7.90" height="2.60" fill="#f8f4b5" />
<line x1="122.10" y1="451.40" x2="129.20" y2="451.40" stroke="#9a9a9a" stroke-width="1.5600000000000136" stroke-dasharray="1.6 1.3"/>
<path d="M130.30,452.70 L130.30,464.70 A12.00,12.00 0 0 1 118.30,452.70" fill="none" stroke="#555" stroke-width="0.7" />
<path d="M96.50,436.40 L84.00,436.40 A12.50,12.50 0 0 0 96.50,449.10" fill="none" stroke="#555" stroke-width="0.7" />
<rect x="82.30" y="412.45" width="16.70" height="2.35" fill="#505052" />
<rect x="82.30" y="383.70" width="2.40" height="31.10" fill="#505052" />
<rect x="96.40" y="422.20" width="30.80" height="2.50" fill="#505052" />
<rect x="124.80" y="396.80" width="2.40" height="31.30" fill="#505052" />
<rect x="124.80" y="428.10" width="6.45" height="5.90" fill="#505052" />
<rect x="124.80" y="398.40" width="2.40" height="11.70" fill="#f8f4b5" />
<line x1="126.00" y1="409.30" x2="126.00" y2="398.40" stroke="#9a9a9a" stroke-width="1.4400000000000033" stroke-dasharray="1.6 1.3"/>
<rect x="99.50" y="412.70" width="8.60" height="9.10" fill="#fbf9d6" stroke="#777" stroke-width="0.6" rx="0"/>
<circle cx="103.80" cy="417.25" r="2.80" fill="none" stroke="#777" stroke-width="0.6"/>
<ellipse cx="116.10" cy="418.50" rx="4.50" ry="3.50" fill="#fff" stroke="#2a2a2a" stroke-width="1.0"/>
<circle cx="116.10" cy="417.50" r="0.80" fill="#222" stroke="none" stroke-width="0"/>
<path d="M124.80,400.50 L114.00,400.50 A10.80,10.80 0 0 0 124.80,411.40" fill="none" stroke="#555" stroke-width="0.7" />
<rect x="134.00" y="394.10" width="12.40" height="3.60" fill="#fff" />
<line x1="134.80" y1="395.90" x2="146.40" y2="395.90" stroke="#9a9a9a" stroke-width="2.1600000000000135" stroke-dasharray="1.6 1.3"/>
<path d="M147.20,397.70 L147.20,411.20 A13.50,13.50 0 0 1 133.90,397.70" fill="none" stroke="#555" stroke-width="0.7" />
<rect x="85.70" y="386.30" width="12.30" height="12.90" fill="#fbf9d6" stroke="#444" stroke-width="1.1" rx="0"/>
<line x1="85.00" y1="385.10" x2="115.00" y2="385.10" stroke="#777" stroke-width="0.5" />
<ellipse cx="106.25" cy="390.30" rx="2.75" ry="3.70" fill="#fff" stroke="#2a2a2a" stroke-width="1.0"/>
<rect x="114.00" y="382.70" width="11.70" height="10.60" fill="#444" />
<rect x="115.40" y="384.10" width="8.90" height="8.20" fill="#7dd87f" />
<line x1="114.50" y1="395.70" x2="124.80" y2="399.70" stroke="#666" stroke-width="0.5" />
<rect x="41.70" y="384.00" width="7.20" height="8.80" fill="#fbf9d6" stroke="#555" stroke-width="0.7" rx="0"/>
<rect x="43.10" y="385.40" width="4.40" height="6.00" fill="#666" stroke="#333" stroke-width="0.6" rx="0"/>
<line x1="43.10" y1="391.40" x2="47.50" y2="385.40" stroke="#eee" stroke-width="0.7" />
<line x1="43.10" y1="385.40" x2="47.50" y2="391.40" stroke="#eee" stroke-width="0.7" />
<rect x="50.20" y="384.00" width="8.70" height="8.80" fill="#fbf9d6" stroke="#666" stroke-width="0.6" rx="0"/>
<rect x="51.70" y="385.50" width="5.70" height="5.80" fill="#fbf9d6" stroke="#666" stroke-width="0.7" rx="1"/>
<rect x="58.90" y="384.00" width="5.10" height="8.80" fill="#fbf9d6" stroke="#888" stroke-width="0.5" rx="0"/>
<rect x="64.20" y="384.30" width="8.00" height="8.00" fill="#3e3e3e" stroke="#333" stroke-width="0.6" rx="0"/>
<circle cx="66.30" cy="390.20" r="1.25" fill="#fff" stroke="none" stroke-width="0"/>
<circle cx="66.30" cy="386.40" r="1.25" fill="#fff" stroke="none" stroke-width="0"/>
<circle cx="70.10" cy="390.20" r="1.25" fill="#fff" stroke="none" stroke-width="0"/>
<circle cx="70.10" cy="386.40" r="1.25" fill="#fff" stroke="none" stroke-width="0"/>
<rect x="73.75" y="384.00" width="7.85" height="8.80" fill="#fbf9d6" stroke="#777" stroke-width="0.6" rx="0"/>
<circle cx="77.67" cy="388.40" r="0.90" fill="#222" stroke="none" stroke-width="0"/>
<rect x="208.00" y="256.00" width="2.90" height="71.50" fill="#505052" />
<rect x="208.00" y="327.30" width="8.30" height="8.60" fill="#505052" />
<rect x="208.00" y="327.30" width="53.00" height="3.00" fill="#505052" />
<rect x="238.60" y="327.30" width="9.00" height="3.00" fill="#f8f4b5" />
<line x1="239.40" y1="328.80" x2="247.60" y2="328.80" stroke="#9a9a9a" stroke-width="1.7999999999999998" stroke-dasharray="1.6 1.3"/>
<path d="M248.50,327.30 L248.50,315.20 A12.10,12.10 0 0 0 236.00,327.30" fill="none" stroke="#555" stroke-width="0.7" />
<rect x="213.90" y="335.90" width="2.60" height="30.40" fill="#505052" />
<rect x="213.90" y="343.80" width="2.60" height="9.70" fill="#f8f4b5" />
<line x1="215.20" y1="344.60" x2="215.20" y2="353.50" stroke="#9a9a9a" stroke-width="1.5599999999999965" stroke-dasharray="1.6 1.3"/>
<path d="M213.90,353.90 L201.40,353.90 A12.50,12.50 0 0 1 213.90,341.00" fill="none" stroke="#555" stroke-width="0.7" />
<rect x="154.40" y="357.70" width="4.40" height="7.70" fill="#7dd87f" />
<rect x="161.50" y="357.20" width="8.50" height="8.20" fill="#fbf9d6" stroke="#555" stroke-width="0.7" rx="0"/>
<rect x="162.90" y="358.60" width="5.70" height="5.40" fill="#666" stroke="#333" stroke-width="0.6" rx="0"/>
<line x1="162.90" y1="358.60" x2="168.60" y2="364.00" stroke="#eee" stroke-width="0.7" />
<line x1="162.90" y1="364.00" x2="168.60" y2="358.60" stroke="#eee" stroke-width="0.7" />
<rect x="170.80" y="357.20" width="7.80" height="8.20" fill="#fbf9d6" stroke="#666" stroke-width="0.6" rx="0"/>
<rect x="172.30" y="358.70" width="4.80" height="5.20" fill="#fbf9d6" stroke="#666" stroke-width="0.7" rx="1"/>
<rect x="179.60" y="357.20" width="7.40" height="8.20" fill="#fbf9d6" stroke="#888" stroke-width="0.5" rx="0"/>
<rect x="187.20" y="357.20" width="8.00" height="8.20" fill="#fbf9d6" stroke="#888" stroke-width="0.5" rx="0"/>
<rect x="196.20" y="357.50" width="7.80" height="7.70" fill="#3e3e3e" stroke="#333" stroke-width="0.6" rx="0"/>
<circle cx="198.24" cy="359.52" r="1.25" fill="#fff" stroke="none" stroke-width="0"/>
<circle cx="198.24" cy="363.18" r="1.25" fill="#fff" stroke="none" stroke-width="0"/>
<circle cx="201.96" cy="359.52" r="1.25" fill="#fff" stroke="none" stroke-width="0"/>
<circle cx="201.96" cy="363.18" r="1.25" fill="#fff" stroke="none" stroke-width="0"/>
<rect x="205.00" y="357.20" width="8.60" height="8.20" fill="#fbf9d6" stroke="#777" stroke-width="0.6" rx="0"/>
<circle cx="209.30" cy="361.30" r="0.90" fill="#222" stroke="none" stroke-width="0"/>
<rect x="239.50" y="366.00" width="13.50" height="3.60" fill="#fff" />
<line x1="240.30" y1="367.80" x2="253.00" y2="367.80" stroke="#9a9a9a" stroke-width="2.1600000000000135" stroke-dasharray="1.6 1.3"/>
<path d="M253.20,366.00 L253.20,352.20 A13.80,13.80 0 0 0 239.20,366.00" fill="none" stroke="#555" stroke-width="0.7" />
<rect x="395.10" y="256.00" width="2.70" height="110.30" fill="#505052" />
<rect x="395.10" y="303.20" width="2.70" height="8.80" fill="#f8f4b5" />
<line x1="396.45" y1="304.00" x2="396.45" y2="312.00" stroke="#9a9a9a" stroke-width="1.6199999999999932" stroke-dasharray="1.6 1.3"/>
<rect x="395.10" y="342.60" width="2.70" height="8.80" fill="#f8f4b5" />
<line x1="396.45" y1="343.40" x2="396.45" y2="351.40" stroke="#9a9a9a" stroke-width="1.6199999999999932" stroke-dasharray="1.6 1.3"/>
<path d="M395.10,312.80 L383.00,312.80 A12.10,12.10 0 0 1 395.10,300.30" fill="none" stroke="#555" stroke-width="0.7" />
<rect x="397.70" y="314.80" width="29.00" height="2.90" fill="#505052" />
<rect x="400.60" y="314.80" width="10.20" height="2.90" fill="#f8f4b5" />
<line x1="401.40" y1="316.25" x2="410.80" y2="316.25" stroke="#9a9a9a" stroke-width="1.7399999999999862" stroke-dasharray="1.6 1.3"/>
<path d="M399.70,317.70 L399.70,329.60 A11.90,11.90 0 0 0 412.20,317.70" fill="none" stroke="#555" stroke-width="0.7" />
<rect x="424.20" y="314.80" width="2.50" height="46.70" fill="#505052" />
<rect x="426.90" y="315.40" width="9.70" height="7.80" fill="#fbf9d6" stroke="#777" stroke-width="0.6" rx="0"/>
<circle cx="431.75" cy="319.30" r="0.90" fill="#222" stroke="none" stroke-width="0"/>
<rect x="427.20" y="324.60" width="9.20" height="8.40" fill="#3e3e3e" stroke="#333" stroke-width="0.6" rx="0"/>
<circle cx="429.61" cy="326.80" r="1.25" fill="#fff" stroke="none" stroke-width="0"/>
<circle cx="429.61" cy="330.80" r="1.25" fill="#fff" stroke="none" stroke-width="0"/>
<circle cx="433.99" cy="326.80" r="1.25" fill="#fff" stroke="none" stroke-width="0"/>
<circle cx="433.99" cy="330.80" r="1.25" fill="#fff" stroke="none" stroke-width="0"/>
<rect x="426.90" y="334.50" width="9.70" height="7.50" fill="#fbf9d6" stroke="#888" stroke-width="0.5" rx="0"/>
<rect x="426.90" y="342.80" width="9.70" height="9.20" fill="#fbf9d6" stroke="#666" stroke-width="0.6" rx="0"/>
<rect x="428.40" y="344.30" width="6.70" height="6.20" fill="#fbf9d6" stroke="#666" stroke-width="0.7" rx="1"/>
<rect x="426.90" y="352.80" width="9.70" height="7.60" fill="#fbf9d6" stroke="#555" stroke-width="0.7" rx="0"/>
<rect x="428.30" y="354.20" width="6.90" height="4.80" fill="#666" stroke="#333" stroke-width="0.6" rx="0"/>
<line x1="428.30" y1="354.20" x2="435.20" y2="359.00" stroke="#eee" stroke-width="0.7" />
<line x1="428.30" y1="359.00" x2="435.20" y2="354.20" stroke="#eee" stroke-width="0.7" />
<rect x="354.20" y="327.30" width="40.90" height="2.70" fill="#505052" />
<rect x="355.60" y="330.60" width="13.60" height="12.40" fill="#fbf9d6" stroke="#444" stroke-width="1.1" rx="0"/>
<rect x="373.70" y="330.00" width="5.80" height="5.60" fill="#505052" />
<ellipse cx="386.70" cy="333.40" rx="4.40" ry="3.00" fill="#fff" stroke="#2a2a2a" stroke-width="1.0"/>
<circle cx="386.70" cy="334.40" r="0.80" fill="#222" stroke="none" stroke-width="0"/>
<path d="M395.10,351.90 L384.30,351.90 A10.80,10.80 0 0 1 395.10,340.70" fill="none" stroke="#555" stroke-width="0.7" />
<rect x="353.80" y="354.40" width="13.40" height="12.30" fill="#444" />
<rect x="355.20" y="355.40" width="10.60" height="9.90" fill="#7dd87f" />
<line x1="354.40" y1="353.60" x2="367.00" y2="353.60" stroke="#666" stroke-width="0.5" />
<ellipse cx="374.00" cy="359.25" rx="2.90" ry="3.75" fill="#fff" stroke="#2a2a2a" stroke-width="1.0"/>
<rect x="385.90" y="354.30" width="8.90" height="9.00" fill="#fbf9d6" stroke="#777" stroke-width="0.6" rx="0"/>
<circle cx="390.35" cy="358.80" r="2.95" fill="none" stroke="#777" stroke-width="0.6"/>
<line x1="366.00" y1="364.40" x2="395.00" y2="364.40" stroke="#777" stroke-width="0.5" />
<rect x="400.00" y="366.00" width="13.40" height="3.60" fill="#fff" />
<line x1="400.80" y1="367.80" x2="413.40" y2="367.80" stroke="#9a9a9a" stroke-width="2.1600000000000135" stroke-dasharray="1.6 1.3"/>
<path d="M399.80,366.00 L399.80,352.20 A13.80,13.80 0 0 1 413.80,366.00" fill="none" stroke="#555" stroke-width="0.7" />
<rect x="414.90" y="360.50" width="60.10" height="9.10" fill="#505052" />
<rect x="417.60" y="362.60" width="8.20" height="2.70" fill="#7dd87f" />
<rect x="430.70" y="365.60" width="10.50" height="3.30" fill="#eee" />
<rect x="431.50" y="367.60" width="8.90" height="1.30" fill="#555" />
<rect x="443.20" y="365.60" width="7.30" height="3.30" fill="#eee" />
<rect x="444.00" y="367.60" width="5.70" height="1.30" fill="#555" />
<rect x="452.40" y="365.60" width="13.20" height="3.30" fill="#eee" />
<rect x="453.20" y="367.60" width="11.60" height="1.30" fill="#555" />
<rect x="468.20" y="365.60" width="5.40" height="3.30" fill="#eee" />
<rect x="469.00" y="367.60" width="3.80" height="1.30" fill="#555" />
<rect x="476.40" y="318.60" width="7.70" height="8.60" fill="#fbf9d6" stroke="#555" stroke-width="0.7" rx="0"/>
<rect x="477.80" y="320.00" width="4.90" height="5.80" fill="#666" stroke="#333" stroke-width="0.6" rx="0"/>
<line x1="477.80" y1="320.00" x2="482.70" y2="325.80" stroke="#eee" stroke-width="0.7" />
<line x1="477.80" y1="325.80" x2="482.70" y2="320.00" stroke="#eee" stroke-width="0.7" />
<rect x="484.90" y="318.60" width="8.40" height="8.60" fill="#fbf9d6" stroke="#666" stroke-width="0.6" rx="0"/>
<rect x="486.40" y="320.10" width="5.40" height="5.60" fill="#fbf9d6" stroke="#666" stroke-width="0.7" rx="1"/>
<rect x="494.30" y="318.60" width="8.70" height="8.60" fill="#fbf9d6" stroke="#888" stroke-width="0.5" rx="0"/>
<rect x="503.60" y="318.90" width="8.20" height="8.10" fill="#3e3e3e" stroke="#333" stroke-width="0.6" rx="0"/>
<circle cx="505.75" cy="321.02" r="1.25" fill="#fff" stroke="none" stroke-width="0"/>
<circle cx="505.75" cy="324.88" r="1.25" fill="#fff" stroke="none" stroke-width="0"/>
<circle cx="509.65" cy="321.02" r="1.25" fill="#fff" stroke="none" stroke-width="0"/>
<circle cx="509.65" cy="324.88" r="1.25" fill="#fff" stroke="none" stroke-width="0"/>
<rect x="513.10" y="318.60" width="8.60" height="8.60" fill="#fbf9d6" stroke="#777" stroke-width="0.6" rx="0"/>
<circle cx="517.40" cy="322.90" r="0.90" fill="#222" stroke="none" stroke-width="0"/>
<rect x="475.30" y="327.30" width="47.70" height="2.70" fill="#505052" />
<rect x="480.20" y="332.20" width="9.20" height="8.90" fill="#fbf9d6" stroke="#777" stroke-width="0.6" rx="0"/>
<circle cx="484.80" cy="336.65" r="2.95" fill="none" stroke="#777" stroke-width="0.6"/>
<ellipse cx="500.25" cy="338.20" rx="2.55" ry="3.70" fill="#fff" stroke="#2a2a2a" stroke-width="1.0"/>
<rect x="508.20" y="329.60" width="12.30" height="10.60" fill="#444" />
<rect x="509.60" y="330.60" width="9.50" height="8.20" fill="#7dd87f" />
<line x1="508.00" y1="342.50" x2="519.30" y2="342.50" stroke="#666" stroke-width="0.5" />
<rect x="480.80" y="349.50" width="12.90" height="14.10" fill="#fbf9d6" stroke="#444" stroke-width="1.1" rx="0"/>
<ellipse cx="507.40" cy="360.25" rx="4.40" ry="3.55" fill="#fff" stroke="#2a2a2a" stroke-width="1.0"/>
<circle cx="507.40" cy="361.25" r="0.80" fill="#222" stroke="none" stroke-width="0"/>
<line x1="479.00" y1="364.60" x2="519.00" y2="364.60" stroke="#777" stroke-width="0.5" />
<rect x="519.30" y="330.00" width="2.70" height="36.30" fill="#505052" />
<rect x="519.30" y="344.30" width="2.70" height="8.70" fill="#f8f4b5" />
<line x1="520.65" y1="345.10" x2="520.65" y2="353.00" stroke="#9a9a9a" stroke-width="1.6200000000000272" stroke-dasharray="1.6 1.3"/>
<path d="M519.30,343.60 L508.50,343.60 A10.80,10.80 0 0 0 519.30,354.60" fill="none" stroke="#555" stroke-width="0.7" />
<rect x="536.90" y="256.00" width="3.20" height="75.00" fill="#505052" />
<rect x="536.90" y="304.90" width="3.20" height="9.90" fill="#f8f4b5" />
<line x1="538.50" y1="305.70" x2="538.50" y2="314.80" stroke="#9a9a9a" stroke-width="1.9200000000000272" stroke-dasharray="1.6 1.3"/>
<path d="M540.10,315.40 L552.70,315.40 A12.60,12.60 0 0 0 540.10,302.90" fill="none" stroke="#555" stroke-width="0.7" />
<rect x="522.00" y="329.00" width="62.80" height="3.20" fill="#505052" />
<rect x="525.00" y="329.00" width="8.60" height="3.20" fill="#f8f4b5" />
<line x1="525.80" y1="330.60" x2="533.60" y2="330.60" stroke="#9a9a9a" stroke-width="1.919999999999993" stroke-dasharray="1.6 1.3"/>
<path d="M535.50,329.00 L535.50,317.20 A11.80,11.80 0 0 0 523.00,329.00" fill="none" stroke="#555" stroke-width="0.7" />
<rect x="547.60" y="332.00" width="4.40" height="34.30" fill="#505052" />
<rect x="547.60" y="332.00" width="13.60" height="2.40" fill="#505052" />
<rect x="523.50" y="366.00" width="14.00" height="3.60" fill="#fff" />
<line x1="524.30" y1="367.80" x2="537.50" y2="367.80" stroke="#9a9a9a" stroke-width="2.1600000000000135" stroke-dasharray="1.6 1.3"/>
<path d="M523.30,366.00 L523.30,351.50 A14.50,14.50 0 0 1 537.50,366.00" fill="none" stroke="#555" stroke-width="0.7" />
<rect x="584.60" y="312.10" width="80.40" height="2.90" fill="#505052" />
<rect x="622.10" y="256.00" width="3.10" height="59.00" fill="#505052" />
<rect x="662.10" y="256.00" width="2.90" height="59.00" fill="#505052" />
<rect x="603.00" y="312.10" width="10.30" height="2.90" fill="#cbc9e1" />
<line x1="603.80" y1="313.55" x2="613.30" y2="313.55" stroke="#9a9a9a" stroke-width="1.7399999999999862" stroke-dasharray="1.6 1.3"/>
<rect x="627.60" y="312.10" width="10.40" height="2.90" fill="#cbc9e1" />
<line x1="628.40" y1="313.55" x2="638.00" y2="313.55" stroke="#9a9a9a" stroke-width="1.7399999999999862" stroke-dasharray="1.6 1.3"/>
<path d="M613.90,312.10 L613.90,300.20 A11.90,11.90 0 0 0 602.20,312.10" fill="none" stroke="#555" stroke-width="0.7" />
<path d="M626.60,312.10 L626.60,300.20 A11.90,11.90 0 0 1 638.90,312.10" fill="none" stroke="#555" stroke-width="0.7" />
<rect x="641.20" y="315.00" width="2.00" height="15.00" fill="#505052" />
<rect x="641.20" y="316.60" width="2.00" height="11.00" fill="#cbc9e1" />
<line x1="642.20" y1="317.40" x2="642.20" y2="327.60" stroke="#9a9a9a" stroke-width="1.2" stroke-dasharray="1.6 1.3"/>
<path d="M643.20,316.10 L655.70,316.10 A12.50,12.50 0 0 1 643.20,328.30" fill="none" stroke="#555" stroke-width="0.7" />
<rect x="637.30" y="329.50" width="5.90" height="6.50" fill="#505052" />
<rect x="637.30" y="335.90" width="2.60" height="44.10" fill="#505052" />
<rect x="637.30" y="337.80" width="2.60" height="9.70" fill="#cbc9e1" />
<line x1="638.60" y1="338.60" x2="638.60" y2="347.50" stroke="#9a9a9a" stroke-width="1.5600000000000136" stroke-dasharray="1.6 1.3"/>
<path d="M637.30,348.40 L626.00,348.40 A11.30,11.30 0 0 1 637.30,336.80" fill="none" stroke="#555" stroke-width="0.7" />
<rect x="643.20" y="333.90" width="12.80" height="2.20" fill="#505052" />
<rect x="653.60" y="334.30" width="2.40" height="45.70" fill="#505052" />
<rect x="656.50" y="335.20" width="8.70" height="6.70" fill="#dcdbee" stroke="#777" stroke-width="0.6" rx="0"/>
<circle cx="660.85" cy="338.55" r="0.90" fill="#222" stroke="none" stroke-width="0"/>
<rect x="656.80" y="343.20" width="8.20" height="8.40" fill="#3e3e3e" stroke="#333" stroke-width="0.6" rx="0"/>
<circle cx="658.95" cy="345.40" r="1.25" fill="#fff" stroke="none" stroke-width="0"/>
<circle cx="658.95" cy="349.40" r="1.25" fill="#fff" stroke="none" stroke-width="0"/>
<circle cx="662.85" cy="345.40" r="1.25" fill="#fff" stroke="none" stroke-width="0"/>
<circle cx="662.85" cy="349.40" r="1.25" fill="#fff" stroke="none" stroke-width="0"/>
<rect x="656.50" y="353.00" width="8.70" height="8.00" fill="#dcdbee" stroke="#888" stroke-width="0.5" rx="0"/>
<rect x="656.50" y="362.20" width="8.70" height="7.40" fill="#dcdbee" stroke="#666" stroke-width="0.6" rx="0"/>
<rect x="658.00" y="363.70" width="5.70" height="4.40" fill="#dcdbee" stroke="#666" stroke-width="0.7" rx="1"/>
<rect x="656.50" y="370.80" width="8.70" height="8.00" fill="#dcdbee" stroke="#555" stroke-width="0.7" rx="0"/>
<rect x="657.90" y="372.20" width="5.90" height="5.20" fill="#666" stroke="#333" stroke-width="0.6" rx="0"/>
<line x1="657.90" y1="372.20" x2="663.80" y2="377.40" stroke="#eee" stroke-width="0.7" />
<line x1="657.90" y1="377.40" x2="663.80" y2="372.20" stroke="#eee" stroke-width="0.7" />
<ellipse cx="650.60" cy="343.15" rx="3.00" ry="3.95" fill="#fff" stroke="#2a2a2a" stroke-width="1.0"/>
<circle cx="650.60" cy="344.15" r="0.80" fill="#222" stroke="none" stroke-width="0"/>
<ellipse cx="646.50" cy="364.35" rx="2.90" ry="3.95" fill="#fff" stroke="#2a2a2a" stroke-width="1.0"/>
<line x1="640.00" y1="369.50" x2="653.50" y2="369.50" stroke="#666" stroke-width="0.5" />
<rect x="640.30" y="372.80" width="13.10" height="6.80" fill="#7dd87f" />
<rect x="639.90" y="371.60" width="13.70" height="1.20" fill="#444" />
<rect x="582.60" y="350.40" width="2.60" height="29.60" fill="#505052" />
<rect x="582.60" y="350.40" width="55.40" height="2.30" fill="#505052" />
<rect x="597.30" y="350.40" width="9.70" height="2.30" fill="#cbc9e1" />
<line x1="598.10" y1="351.55" x2="607.00" y2="351.55" stroke="#9a9a9a" stroke-width="1.3800000000000068" stroke-dasharray="1.6 1.3"/>
<path d="M597.10,350.40 L597.10,339.60 A10.80,10.80 0 0 1 608.20,350.40" fill="none" stroke="#555" stroke-width="0.7" />
<rect x="585.20" y="352.70" width="52.10" height="27.30" fill="#cbc9e1" />
<rect x="586.50" y="353.40" width="8.60" height="7.60" fill="#dcdbee" stroke="#777" stroke-width="0.6" rx="0"/>
<circle cx="590.80" cy="357.20" r="2.30" fill="none" stroke="#777" stroke-width="0.6"/>
<rect x="612.50" y="353.40" width="23.50" height="9.50" fill="#dcdbee" stroke="#777" stroke-width="0.7" rx="0"/>
<rect x="614.00" y="354.60" width="20.50" height="7.10" fill="#dcdbee" stroke="#888" stroke-width="0.6" rx="2"/>
<rect x="586.20" y="363.90" width="13.50" height="13.30" fill="#dcdbee" stroke="#444" stroke-width="1.1" rx="0"/>
<rect x="605.00" y="371.50" width="17.10" height="6.30" fill="#dcdbee" stroke="#666" stroke-width="0.6" rx="0"/>
<ellipse cx="609.30" cy="374.60" rx="2.60" ry="2.30" fill="#fff" stroke="#444" stroke-width="0.6"/>
<ellipse cx="617.80" cy="374.60" rx="2.60" ry="2.30" fill="#fff" stroke="#444" stroke-width="0.6"/>
<ellipse cx="629.00" cy="370.00" rx="3.60" ry="2.90" fill="#fff" stroke="#333" stroke-width="0.8"/>
<line x1="586.00" y1="378.60" x2="637.00" y2="378.60" stroke="#777" stroke-width="0.5" />
<rect x="665.00" y="301.30" width="62.60" height="3.10" fill="#505052" />
<rect x="676.60" y="301.30" width="10.20" height="3.10" fill="#cbc9e1" />
<line x1="677.40" y1="302.85" x2="686.80" y2="302.85" stroke="#9a9a9a" stroke-width="1.8599999999999794" stroke-dasharray="1.6 1.3"/>
<path d="M676.20,301.30 L676.20,289.50 A11.80,11.80 0 0 1 688.00,301.30" fill="none" stroke="#555" stroke-width="0.7" />
<path d="M731.50,369.20 L718.70,369.20 A12.80,12.80 0 0 1 731.50,356.30" fill="none" stroke="#555" stroke-width="0.7" />
<rect x="564.80" y="366.00" width="13.60" height="3.60" fill="#fff" />
<line x1="565.60" y1="367.80" x2="578.40" y2="367.80" stroke="#9a9a9a" stroke-width="2.1600000000000135" stroke-dasharray="1.6 1.3"/>
<path d="M578.60,366.00 L578.60,351.70 A14.30,14.30 0 0 0 564.50,366.00" fill="none" stroke="#555" stroke-width="0.7" />
<rect x="550.90" y="359.60" width="8.30" height="7.10" fill="#444" />
<rect x="552.30" y="360.60" width="5.50" height="4.70" fill="#7dd87f" />
<rect x="580.00" y="350.40" width="4.80" height="47.60" fill="#505052" />
<rect x="476.40" y="436.50" width="7.70" height="8.60" fill="#fbf9d6" stroke="#555" stroke-width="0.7" rx="0"/>
<rect x="477.80" y="437.90" width="4.90" height="5.80" fill="#666" stroke="#333" stroke-width="0.6" rx="0"/>
<line x1="477.80" y1="443.70" x2="482.70" y2="437.90" stroke="#eee" stroke-width="0.7" />
<line x1="477.80" y1="437.90" x2="482.70" y2="443.70" stroke="#eee" stroke-width="0.7" />
<rect x="484.90" y="436.50" width="8.40" height="8.60" fill="#fbf9d6" stroke="#666" stroke-width="0.6" rx="0"/>
<rect x="486.40" y="438.00" width="5.40" height="5.60" fill="#fbf9d6" stroke="#666" stroke-width="0.7" rx="1"/>
<rect x="494.30" y="436.50" width="8.70" height="8.60" fill="#fbf9d6" stroke="#888" stroke-width="0.5" rx="0"/>
<rect x="503.60" y="436.70" width="8.20" height="8.10" fill="#3e3e3e" stroke="#333" stroke-width="0.6" rx="0"/>
<circle cx="505.75" cy="442.68" r="1.25" fill="#fff" stroke="none" stroke-width="0"/>
<circle cx="505.75" cy="438.82" r="1.25" fill="#fff" stroke="none" stroke-width="0"/>
<circle cx="509.65" cy="442.68" r="1.25" fill="#fff" stroke="none" stroke-width="0"/>
<circle cx="509.65" cy="438.82" r="1.25" fill="#fff" stroke="none" stroke-width="0"/>
<rect x="513.10" y="436.50" width="8.60" height="8.60" fill="#fbf9d6" stroke="#777" stroke-width="0.6" rx="0"/>
<circle cx="517.40" cy="440.80" r="0.90" fill="#222" stroke="none" stroke-width="0"/>
<rect x="475.30" y="433.70" width="47.70" height="2.70" fill="#505052" />
<rect x="480.20" y="422.60" width="9.20" height="8.90" fill="#fbf9d6" stroke="#777" stroke-width="0.6" rx="0"/>
<circle cx="484.80" cy="427.05" r="2.95" fill="none" stroke="#777" stroke-width="0.6"/>
<ellipse cx="500.25" cy="425.50" rx="2.55" ry="3.70" fill="#fff" stroke="#2a2a2a" stroke-width="1.0"/>
<rect x="508.20" y="423.50" width="12.30" height="10.60" fill="#444" />
<rect x="509.60" y="424.90" width="9.50" height="8.20" fill="#fbf9d6" />
<line x1="508.00" y1="421.20" x2="519.30" y2="421.20" stroke="#666" stroke-width="0.5" />
<rect x="480.80" y="400.10" width="12.90" height="14.10" fill="#fbf9d6" stroke="#444" stroke-width="1.1" rx="0"/>
<ellipse cx="507.40" cy="403.45" rx="4.40" ry="3.55" fill="#fff" stroke="#2a2a2a" stroke-width="1.0"/>
<circle cx="507.40" cy="402.45" r="0.80" fill="#222" stroke="none" stroke-width="0"/>
<line x1="479.00" y1="399.10" x2="519.00" y2="399.10" stroke="#777" stroke-width="0.5" />
<rect x="519.30" y="397.40" width="2.70" height="36.30" fill="#505052" />
<rect x="519.30" y="410.70" width="2.70" height="8.70" fill="#f8f4b5" />
<line x1="520.65" y1="418.60" x2="520.65" y2="410.70" stroke="#9a9a9a" stroke-width="1.6200000000000272" stroke-dasharray="1.6 1.3"/>
<path d="M519.30,420.10 L508.50,420.10 A10.80,10.80 0 0 1 519.30,409.10" fill="none" stroke="#555" stroke-width="0.7" />
<rect x="536.90" y="432.70" width="3.20" height="75.00" fill="#505052" />
<rect x="536.90" y="448.90" width="3.20" height="9.90" fill="#f8f4b5" />
<line x1="538.50" y1="458.00" x2="538.50" y2="448.90" stroke="#9a9a9a" stroke-width="1.9200000000000272" stroke-dasharray="1.6 1.3"/>
<path d="M540.10,448.30 L552.70,448.30 A12.60,12.60 0 0 1 540.10,460.80" fill="none" stroke="#555" stroke-width="0.7" />
<rect x="522.00" y="431.50" width="62.80" height="3.20" fill="#505052" />
<rect x="525.00" y="431.50" width="8.60" height="3.20" fill="#f8f4b5" />
<line x1="525.80" y1="433.10" x2="533.60" y2="433.10" stroke="#9a9a9a" stroke-width="1.919999999999993" stroke-dasharray="1.6 1.3"/>
<path d="M535.50,434.70 L535.50,446.50 A11.80,11.80 0 0 1 523.00,434.70" fill="none" stroke="#555" stroke-width="0.7" />
<rect x="547.60" y="397.40" width="4.40" height="34.30" fill="#505052" />
<rect x="547.60" y="429.30" width="13.60" height="2.40" fill="#505052" />
<rect x="523.50" y="394.10" width="14.00" height="3.60" fill="#fff" />
<line x1="524.30" y1="395.90" x2="537.50" y2="395.90" stroke="#9a9a9a" stroke-width="2.1600000000000135" stroke-dasharray="1.6 1.3"/>
<path d="M523.30,397.70 L523.30,412.20 A14.50,14.50 0 0 0 537.50,397.70" fill="none" stroke="#555" stroke-width="0.7" />
<rect x="584.60" y="448.70" width="80.40" height="2.90" fill="#505052" />
<rect x="622.10" y="448.70" width="3.10" height="59.00" fill="#505052" />
<rect x="662.10" y="448.70" width="2.90" height="59.00" fill="#505052" />
<rect x="603.00" y="448.70" width="10.30" height="2.90" fill="#cbc9e1" />
<line x1="603.80" y1="450.15" x2="613.30" y2="450.15" stroke="#9a9a9a" stroke-width="1.7399999999999862" stroke-dasharray="1.6 1.3"/>
<rect x="627.60" y="448.70" width="10.40" height="2.90" fill="#cbc9e1" />
<line x1="628.40" y1="450.15" x2="638.00" y2="450.15" stroke="#9a9a9a" stroke-width="1.7399999999999862" stroke-dasharray="1.6 1.3"/>
<path d="M613.90,451.60 L613.90,463.50 A11.90,11.90 0 0 1 602.20,451.60" fill="none" stroke="#555" stroke-width="0.7" />
<path d="M626.60,451.60 L626.60,463.50 A11.90,11.90 0 0 0 638.90,451.60" fill="none" stroke="#555" stroke-width="0.7" />
<rect x="641.20" y="433.70" width="2.00" height="15.00" fill="#505052" />
<rect x="641.20" y="436.10" width="2.00" height="11.00" fill="#cbc9e1" />
<line x1="642.20" y1="446.30" x2="642.20" y2="436.10" stroke="#9a9a9a" stroke-width="1.2" stroke-dasharray="1.6 1.3"/>
<path d="M643.20,447.60 L655.70,447.60 A12.50,12.50 0 0 0 643.20,435.40" fill="none" stroke="#555" stroke-width="0.7" />
<rect x="637.30" y="427.70" width="5.90" height="6.50" fill="#505052" />
<rect x="637.30" y="383.70" width="2.60" height="44.10" fill="#505052" />
<rect x="637.30" y="416.20" width="2.60" height="9.70" fill="#cbc9e1" />
<line x1="638.60" y1="425.10" x2="638.60" y2="416.20" stroke="#9a9a9a" stroke-width="1.5600000000000136" stroke-dasharray="1.6 1.3"/>
<path d="M637.30,415.30 L626.00,415.30 A11.30,11.30 0 0 0 637.30,426.90" fill="none" stroke="#555" stroke-width="0.7" />
<rect x="643.20" y="427.60" width="12.80" height="2.20" fill="#505052" />
<rect x="653.60" y="383.70" width="2.40" height="45.70" fill="#505052" />
<rect x="656.50" y="421.80" width="8.70" height="6.70" fill="#dcdbee" stroke="#777" stroke-width="0.6" rx="0"/>
<circle cx="660.85" cy="425.15" r="0.90" fill="#222" stroke="none" stroke-width="0"/>
<rect x="656.80" y="412.10" width="8.20" height="8.40" fill="#3e3e3e" stroke="#333" stroke-width="0.6" rx="0"/>
<circle cx="658.95" cy="418.30" r="1.25" fill="#fff" stroke="none" stroke-width="0"/>
<circle cx="658.95" cy="414.30" r="1.25" fill="#fff" stroke="none" stroke-width="0"/>
<circle cx="662.85" cy="418.30" r="1.25" fill="#fff" stroke="none" stroke-width="0"/>
<circle cx="662.85" cy="414.30" r="1.25" fill="#fff" stroke="none" stroke-width="0"/>
<rect x="656.50" y="402.70" width="8.70" height="8.00" fill="#dcdbee" stroke="#888" stroke-width="0.5" rx="0"/>
<rect x="656.50" y="394.10" width="8.70" height="7.40" fill="#dcdbee" stroke="#666" stroke-width="0.6" rx="0"/>
<rect x="658.00" y="395.60" width="5.70" height="4.40" fill="#dcdbee" stroke="#666" stroke-width="0.7" rx="1"/>
<rect x="656.50" y="384.90" width="8.70" height="8.00" fill="#dcdbee" stroke="#555" stroke-width="0.7" rx="0"/>
<rect x="657.90" y="386.30" width="5.90" height="5.20" fill="#666" stroke="#333" stroke-width="0.6" rx="0"/>
<line x1="657.90" y1="391.50" x2="663.80" y2="386.30" stroke="#eee" stroke-width="0.7" />
<line x1="657.90" y1="386.30" x2="663.80" y2="391.50" stroke="#eee" stroke-width="0.7" />
<ellipse cx="650.60" cy="420.55" rx="3.00" ry="3.95" fill="#fff" stroke="#2a2a2a" stroke-width="1.0"/>
<circle cx="650.60" cy="419.55" r="0.80" fill="#222" stroke="none" stroke-width="0"/>
<ellipse cx="646.50" cy="399.35" rx="2.90" ry="3.95" fill="#fff" stroke="#2a2a2a" stroke-width="1.0"/>
<line x1="640.00" y1="394.20" x2="653.50" y2="394.20" stroke="#666" stroke-width="0.5" />
<rect x="640.30" y="384.10" width="13.10" height="6.80" fill="#7dd87f" />
<rect x="639.90" y="390.90" width="13.70" height="1.20" fill="#444" />
<rect x="582.60" y="383.70" width="2.60" height="29.60" fill="#505052" />
<rect x="582.60" y="411.00" width="55.40" height="2.30" fill="#505052" />
<rect x="597.30" y="411.00" width="9.70" height="2.30" fill="#cbc9e1" />
<line x1="598.10" y1="412.15" x2="607.00" y2="412.15" stroke="#9a9a9a" stroke-width="1.3800000000000068" stroke-dasharray="1.6 1.3"/>
<path d="M597.10,413.30 L597.10,424.10 A10.80,10.80 0 0 0 608.20,413.30" fill="none" stroke="#555" stroke-width="0.7" />
<rect x="585.20" y="383.70" width="52.10" height="27.30" fill="#cbc9e1" />
<rect x="586.50" y="402.70" width="8.60" height="7.60" fill="#dcdbee" stroke="#777" stroke-width="0.6" rx="0"/>
<circle cx="590.80" cy="406.50" r="2.30" fill="none" stroke="#777" stroke-width="0.6"/>
<rect x="612.50" y="400.80" width="23.50" height="9.50" fill="#dcdbee" stroke="#777" stroke-width="0.7" rx="0"/>
<rect x="614.00" y="402.00" width="20.50" height="7.10" fill="#dcdbee" stroke="#888" stroke-width="0.6" rx="2"/>
<rect x="586.20" y="386.50" width="13.50" height="13.30" fill="#dcdbee" stroke="#444" stroke-width="1.1" rx="0"/>
<rect x="605.00" y="385.90" width="17.10" height="6.30" fill="#dcdbee" stroke="#666" stroke-width="0.6" rx="0"/>
<ellipse cx="609.30" cy="389.10" rx="2.60" ry="2.30" fill="#fff" stroke="#444" stroke-width="0.6"/>
<ellipse cx="617.80" cy="389.10" rx="2.60" ry="2.30" fill="#fff" stroke="#444" stroke-width="0.6"/>
<ellipse cx="629.00" cy="393.70" rx="3.60" ry="2.90" fill="#fff" stroke="#333" stroke-width="0.8"/>
<line x1="586.00" y1="385.10" x2="637.00" y2="385.10" stroke="#777" stroke-width="0.5" />
<rect x="665.00" y="459.30" width="62.60" height="3.10" fill="#505052" />
<rect x="676.60" y="459.30" width="10.20" height="3.10" fill="#cbc9e1" />
<line x1="677.40" y1="460.85" x2="686.80" y2="460.85" stroke="#9a9a9a" stroke-width="1.8599999999999794" stroke-dasharray="1.6 1.3"/>
<path d="M676.20,462.40 L676.20,474.20 A11.80,11.80 0 0 0 688.00,462.40" fill="none" stroke="#555" stroke-width="0.7" />
<path d="M731.50,394.50 L718.70,394.50 A12.80,12.80 0 0 0 731.50,407.40" fill="none" stroke="#555" stroke-width="0.7" />
<rect x="564.80" y="394.10" width="13.60" height="3.60" fill="#fff" />
<line x1="565.60" y1="395.90" x2="578.40" y2="395.90" stroke="#9a9a9a" stroke-width="2.1600000000000135" stroke-dasharray="1.6 1.3"/>
<path d="M578.60,397.70 L578.60,412.00 A14.30,14.30 0 0 1 564.50,397.70" fill="none" stroke="#555" stroke-width="0.7" />
<rect x="552.00" y="397.70" width="9.00" height="4.00" fill="#505052" />
<rect x="580.00" y="365.70" width="4.80" height="47.60" fill="#505052" />
<rect x="256.20" y="433.80" width="43.20" height="2.30" fill="#505052" />
<rect x="296.60" y="398.00" width="2.80" height="109.60" fill="#505052" />
<rect x="296.60" y="413.80" width="2.80" height="10.80" fill="#f8f4b5" />
<line x1="298.00" y1="414.60" x2="298.00" y2="424.60" stroke="#9a9a9a" stroke-width="1.6799999999999726" stroke-dasharray="1.6 1.3"/>
<rect x="296.60" y="448.20" width="2.80" height="10.30" fill="#f8f4b5" />
<line x1="298.00" y1="449.00" x2="298.00" y2="458.50" stroke="#9a9a9a" stroke-width="1.6799999999999726" stroke-dasharray="1.6 1.3"/>
<path d="M296.60,412.70 L285.60,412.70 A11.00,11.00 0 0 0 296.60,425.00" fill="none" stroke="#555" stroke-width="0.7" />
<rect x="286.00" y="397.60" width="11.70" height="10.40" fill="#444" />
<rect x="287.40" y="398.60" width="8.90" height="8.00" fill="#7dd87f" />
<line x1="286.00" y1="408.50" x2="296.60" y2="408.50" stroke="#666" stroke-width="0.5" />
<ellipse cx="278.15" cy="405.80" rx="2.45" ry="3.70" fill="#fff" stroke="#2a2a2a" stroke-width="1.0"/>
<rect x="258.40" y="400.30" width="9.00" height="8.80" fill="#fbf9d6" stroke="#777" stroke-width="0.6" rx="0"/>
<circle cx="262.90" cy="404.70" r="2.90" fill="none" stroke="#777" stroke-width="0.6"/>
<rect x="258.60" y="420.20" width="13.70" height="13.20" fill="#fbf9d6" stroke="#444" stroke-width="1.1" rx="0"/>
<ellipse cx="283.80" cy="430.50" rx="4.40" ry="3.10" fill="#fff" stroke="#2a2a2a" stroke-width="1.0"/>
<circle cx="283.80" cy="431.50" r="0.80" fill="#222" stroke="none" stroke-width="0"/>
<rect x="290.70" y="428.20" width="5.90" height="5.60" fill="#505052" />
<line x1="258.00" y1="432.80" x2="296.00" y2="432.80" stroke="#777" stroke-width="0.5" />
<rect x="301.30" y="393.90" width="13.70" height="4.20" fill="#fff" />
<line x1="302.10" y1="396.00" x2="315.00" y2="396.00" stroke="#9a9a9a" stroke-width="2.520000000000027" stroke-dasharray="1.6 1.3"/>
<path d="M301.10,398.00 L301.10,411.60 A13.60,13.60 0 0 0 315.20,398.00" fill="none" stroke="#555" stroke-width="0.7" />
<rect x="317.40" y="398.00" width="10.10" height="5.20" fill="#505052" />
<rect x="318.80" y="398.90" width="7.80" height="2.50" fill="#7dd87f" />
<rect x="326.70" y="398.00" width="2.30" height="47.00" fill="#505052" />
<rect x="299.40" y="442.20" width="29.60" height="2.80" fill="#505052" />
<rect x="304.50" y="442.20" width="9.50" height="2.80" fill="#f8f4b5" />
<line x1="305.30" y1="443.60" x2="314.00" y2="443.60" stroke="#9a9a9a" stroke-width="1.6800000000000068" stroke-dasharray="1.6 1.3"/>
<path d="M302.20,442.20 L302.20,430.20 A12.00,12.00 0 0 1 314.80,442.20" fill="none" stroke="#555" stroke-width="0.7" />
<path d="M296.60,447.70 L284.30,447.70 A12.30,12.30 0 0 0 296.60,460.00" fill="none" stroke="#555" stroke-width="0.7" />
<rect x="329.20" y="399.00" width="9.60" height="7.40" fill="#fbf9d6" stroke="#555" stroke-width="0.7" rx="0"/>
<rect x="330.60" y="400.40" width="6.80" height="4.60" fill="#666" stroke="#333" stroke-width="0.6" rx="0"/>
<line x1="330.60" y1="400.40" x2="337.40" y2="405.00" stroke="#eee" stroke-width="0.7" />
<line x1="330.60" y1="405.00" x2="337.40" y2="400.40" stroke="#eee" stroke-width="0.7" />
<rect x="329.20" y="407.90" width="9.60" height="7.80" fill="#fbf9d6" stroke="#666" stroke-width="0.6" rx="0"/>
<rect x="330.70" y="409.40" width="6.60" height="4.80" fill="#fbf9d6" stroke="#666" stroke-width="0.7" rx="1"/>
<rect x="329.20" y="417.00" width="9.60" height="7.80" fill="#fbf9d6" stroke="#888" stroke-width="0.5" rx="0"/>
<rect x="329.50" y="426.20" width="9.10" height="8.00" fill="#3e3e3e" stroke="#333" stroke-width="0.6" rx="0"/>
<circle cx="331.88" cy="428.30" r="1.25" fill="#fff" stroke="none" stroke-width="0"/>
<circle cx="331.88" cy="432.10" r="1.25" fill="#fff" stroke="none" stroke-width="0"/>
<circle cx="336.22" cy="428.30" r="1.25" fill="#fff" stroke="none" stroke-width="0"/>
<circle cx="336.22" cy="432.10" r="1.25" fill="#fff" stroke="none" stroke-width="0"/>
<rect x="329.20" y="435.50" width="9.60" height="8.10" fill="#fbf9d6" stroke="#777" stroke-width="0.6" rx="0"/>
<circle cx="334.00" cy="439.55" r="0.90" fill="#222" stroke="none" stroke-width="0"/>
<rect x="359.00" y="433.80" width="43.20" height="2.30" fill="#505052" />
<rect x="399.40" y="398.00" width="2.80" height="109.60" fill="#505052" />
<rect x="399.40" y="413.80" width="2.80" height="10.80" fill="#f8f4b5" />
<line x1="400.80" y1="414.60" x2="400.80" y2="424.60" stroke="#9a9a9a" stroke-width="1.6799999999999726" stroke-dasharray="1.6 1.3"/>
<rect x="399.40" y="448.20" width="2.80" height="10.30" fill="#f8f4b5" />
<line x1="400.80" y1="449.00" x2="400.80" y2="458.50" stroke="#9a9a9a" stroke-width="1.6799999999999726" stroke-dasharray="1.6 1.3"/>
<path d="M399.40,412.70 L388.40,412.70 A11.00,11.00 0 0 0 399.40,425.00" fill="none" stroke="#555" stroke-width="0.7" />
<rect x="358.40" y="397.60" width="11.20" height="9.40" fill="#444" />
<rect x="359.80" y="398.60" width="8.40" height="7.00" fill="#7dd87f" />
<line x1="359.20" y1="407.60" x2="369.60" y2="407.60" stroke="#666" stroke-width="0.5" />
<ellipse cx="378.65" cy="405.75" rx="2.55" ry="3.95" fill="#fff" stroke="#2a2a2a" stroke-width="1.0"/>
<rect x="390.90" y="400.90" width="7.90" height="8.20" fill="#fbf9d6" stroke="#777" stroke-width="0.6" rx="0"/>
<circle cx="394.85" cy="405.00" r="2.45" fill="none" stroke="#777" stroke-width="0.6"/>
<rect x="360.10" y="420.50" width="12.30" height="12.80" fill="#fbf9d6" stroke="#444" stroke-width="1.1" rx="0"/>
<rect x="374.40" y="428.20" width="4.90" height="5.70" fill="#505052" />
<ellipse cx="389.75" cy="430.55" rx="4.45" ry="3.15" fill="#fff" stroke="#2a2a2a" stroke-width="1.0"/>
<circle cx="389.75" cy="431.55" r="0.80" fill="#222" stroke="none" stroke-width="0"/>
<line x1="360.80" y1="432.80" x2="398.80" y2="432.80" stroke="#777" stroke-width="0.5" />
<rect x="404.10" y="393.90" width="13.70" height="4.20" fill="#fff" />
<line x1="404.90" y1="396.00" x2="417.80" y2="396.00" stroke="#9a9a9a" stroke-width="2.520000000000027" stroke-dasharray="1.6 1.3"/>
<path d="M403.90,398.00 L403.90,411.60 A13.60,13.60 0 0 0 418.00,398.00" fill="none" stroke="#555" stroke-width="0.7" />
<rect x="420.20" y="398.00" width="10.10" height="5.20" fill="#505052" />
<rect x="421.60" y="398.90" width="7.80" height="2.50" fill="#fbf9d6" />
<rect x="429.50" y="398.00" width="2.30" height="47.00" fill="#505052" />
<rect x="402.20" y="442.20" width="29.60" height="2.80" fill="#505052" />
<rect x="407.30" y="442.20" width="9.50" height="2.80" fill="#f8f4b5" />
<line x1="408.10" y1="443.60" x2="416.80" y2="443.60" stroke="#9a9a9a" stroke-width="1.6800000000000068" stroke-dasharray="1.6 1.3"/>
<path d="M405.00,442.20 L405.00,430.20 A12.00,12.00 0 0 1 417.60,442.20" fill="none" stroke="#555" stroke-width="0.7" />
<path d="M399.40,447.70 L387.10,447.70 A12.30,12.30 0 0 0 399.40,460.00" fill="none" stroke="#555" stroke-width="0.7" />
<rect x="432.00" y="399.00" width="9.60" height="7.40" fill="#fbf9d6" stroke="#555" stroke-width="0.7" rx="0"/>
<rect x="433.40" y="400.40" width="6.80" height="4.60" fill="#666" stroke="#333" stroke-width="0.6" rx="0"/>
<line x1="433.40" y1="400.40" x2="440.20" y2="405.00" stroke="#eee" stroke-width="0.7" />
<line x1="433.40" y1="405.00" x2="440.20" y2="400.40" stroke="#eee" stroke-width="0.7" />
<rect x="432.00" y="407.90" width="9.60" height="7.80" fill="#fbf9d6" stroke="#666" stroke-width="0.6" rx="0"/>
<rect x="433.50" y="409.40" width="6.60" height="4.80" fill="#fbf9d6" stroke="#666" stroke-width="0.7" rx="1"/>
<rect x="432.00" y="417.00" width="9.60" height="7.80" fill="#fbf9d6" stroke="#888" stroke-width="0.5" rx="0"/>
<rect x="432.30" y="426.20" width="9.10" height="8.00" fill="#3e3e3e" stroke="#333" stroke-width="0.6" rx="0"/>
<circle cx="434.68" cy="428.30" r="1.25" fill="#fff" stroke="none" stroke-width="0"/>
<circle cx="434.68" cy="432.10" r="1.25" fill="#fff" stroke="none" stroke-width="0"/>
<circle cx="439.02" cy="428.30" r="1.25" fill="#fff" stroke="none" stroke-width="0"/>
<circle cx="439.02" cy="432.10" r="1.25" fill="#fff" stroke="none" stroke-width="0"/>
<rect x="432.00" y="435.50" width="9.60" height="8.10" fill="#fbf9d6" stroke="#777" stroke-width="0.6" rx="0"/>
<circle cx="436.80" cy="439.55" r="0.90" fill="#222" stroke="none" stroke-width="0"/>
<rect x="208.30" y="433.80" width="43.20" height="2.30" fill="#505052" />
<rect x="208.30" y="398.00" width="2.80" height="109.60" fill="#505052" />
<rect x="208.30" y="413.80" width="2.80" height="10.80" fill="#f8f4b5" />
<line x1="209.70" y1="414.60" x2="209.70" y2="424.60" stroke="#9a9a9a" stroke-width="1.6799999999999726" stroke-dasharray="1.6 1.3"/>
<rect x="208.30" y="448.20" width="2.80" height="10.30" fill="#f8f4b5" />
<line x1="209.70" y1="449.00" x2="209.70" y2="458.50" stroke="#9a9a9a" stroke-width="1.6799999999999726" stroke-dasharray="1.6 1.3"/>
<path d="M211.10,412.70 L222.10,412.70 A11.00,11.00 0 0 1 211.10,425.00" fill="none" stroke="#555" stroke-width="0.7" />
<rect x="210.00" y="397.60" width="11.70" height="10.40" fill="#444" />
<rect x="211.40" y="398.60" width="8.90" height="8.00" fill="#7dd87f" />
<line x1="221.70" y1="408.50" x2="211.10" y2="408.50" stroke="#666" stroke-width="0.5" />
<ellipse cx="229.55" cy="405.80" rx="2.45" ry="3.70" fill="#fff" stroke="#2a2a2a" stroke-width="1.0"/>
<rect x="237.30" y="399.40" width="11.80" height="11.90" fill="#fbf9d6" stroke="#444" stroke-width="1.1" rx="0"/>
<rect x="240.10" y="424.40" width="9.40" height="9.00" fill="#fbf9d6" stroke="#777" stroke-width="0.6" rx="0"/>
<circle cx="244.80" cy="428.90" r="3.00" fill="none" stroke="#777" stroke-width="0.6"/>
<ellipse cx="223.90" cy="430.50" rx="4.40" ry="3.10" fill="#fff" stroke="#2a2a2a" stroke-width="1.0"/>
<circle cx="223.90" cy="431.50" r="0.80" fill="#222" stroke="none" stroke-width="0"/>
<rect x="211.10" y="428.20" width="5.90" height="5.60" fill="#505052" />
<line x1="249.70" y1="432.80" x2="211.70" y2="432.80" stroke="#777" stroke-width="0.5" />
<rect x="192.70" y="393.90" width="13.70" height="4.20" fill="#fff" />
<line x1="205.60" y1="396.00" x2="192.70" y2="396.00" stroke="#9a9a9a" stroke-width="2.520000000000027" stroke-dasharray="1.6 1.3"/>
<path d="M206.60,398.00 L206.60,411.60 A13.60,13.60 0 0 1 192.50,398.00" fill="none" stroke="#555" stroke-width="0.7" />
<rect x="180.20" y="398.00" width="10.10" height="5.20" fill="#505052" />
<rect x="181.10" y="398.90" width="7.80" height="2.50" fill="#7dd87f" />
<rect x="178.70" y="398.00" width="2.30" height="47.00" fill="#505052" />
<rect x="178.70" y="442.20" width="29.60" height="2.80" fill="#505052" />
<rect x="193.70" y="442.20" width="9.50" height="2.80" fill="#f8f4b5" />
<line x1="202.40" y1="443.60" x2="193.70" y2="443.60" stroke="#9a9a9a" stroke-width="1.6800000000000068" stroke-dasharray="1.6 1.3"/>
<path d="M205.50,442.20 L205.50,430.20 A12.00,12.00 0 0 0 192.90,442.20" fill="none" stroke="#555" stroke-width="0.7" />
<path d="M211.10,447.70 L223.40,447.70 A12.30,12.30 0 0 1 211.10,460.00" fill="none" stroke="#555" stroke-width="0.7" />
<rect x="168.90" y="399.00" width="9.60" height="7.40" fill="#fbf9d6" stroke="#555" stroke-width="0.7" rx="0"/>
<rect x="170.30" y="400.40" width="6.80" height="4.60" fill="#666" stroke="#333" stroke-width="0.6" rx="0"/>
<line x1="177.10" y1="400.40" x2="170.30" y2="405.00" stroke="#eee" stroke-width="0.7" />
<line x1="177.10" y1="405.00" x2="170.30" y2="400.40" stroke="#eee" stroke-width="0.7" />
<rect x="168.90" y="407.90" width="9.60" height="7.80" fill="#fbf9d6" stroke="#666" stroke-width="0.6" rx="0"/>
<rect x="170.40" y="409.40" width="6.60" height="4.80" fill="#fbf9d6" stroke="#666" stroke-width="0.7" rx="1"/>
<rect x="168.90" y="417.00" width="9.60" height="7.80" fill="#fbf9d6" stroke="#888" stroke-width="0.5" rx="0"/>
<rect x="169.10" y="426.20" width="9.10" height="8.00" fill="#3e3e3e" stroke="#333" stroke-width="0.6" rx="0"/>
<circle cx="175.82" cy="428.30" r="1.25" fill="#fff" stroke="none" stroke-width="0"/>
<circle cx="175.82" cy="432.10" r="1.25" fill="#fff" stroke="none" stroke-width="0"/>
<circle cx="171.48" cy="428.30" r="1.25" fill="#fff" stroke="none" stroke-width="0"/>
<circle cx="171.48" cy="432.10" r="1.25" fill="#fff" stroke="none" stroke-width="0"/>
<rect x="168.90" y="435.50" width="9.60" height="8.10" fill="#fbf9d6" stroke="#777" stroke-width="0.6" rx="0"/>
<circle cx="173.70" cy="439.55" r="0.90" fill="#222" stroke="none" stroke-width="0"/>
<path d="M88.30,252.40 L88.30,265.70 A13.30,13.30 0 0 1 75.00,252.40" fill="none" stroke="#555" stroke-width="0.7" />
<path d="M111.30,252.40 L111.30,265.10 A12.70,12.70 0 0 0 124.00,252.40" fill="none" stroke="#555" stroke-width="0.7" />
<path d="M137.70,252.40 L127.21,261.21 A13.70,13.70 0 0 1 124.00,252.40" fill="none" stroke="#555" stroke-width="0.7" />
<path d="M160.00,252.40 L160.00,265.40 A13.00,13.00 0 0 0 173.00,252.40" fill="none" stroke="#555" stroke-width="0.7" />
<path d="M248.90,252.40 L248.90,264.70 A12.30,12.30 0 0 1 236.60,252.40" fill="none" stroke="#555" stroke-width="0.7" />
<path d="M222.40,252.40 L233.28,261.53 A14.20,14.20 0 0 0 236.60,252.40" fill="none" stroke="#555" stroke-width="0.7" />
<path d="M384.20,252.40 L384.20,265.60 A13.20,13.20 0 0 1 371.00,252.40" fill="none" stroke="#555" stroke-width="0.7" />
<path d="M355.60,252.40 L367.40,262.30 A15.40,15.40 0 0 0 371.00,252.40" fill="none" stroke="#555" stroke-width="0.7" />
<path d="M457.00,252.40 L457.00,265.80 A13.40,13.40 0 0 1 443.60,252.40" fill="none" stroke="#555" stroke-width="0.7" />
<path d="M486.60,252.40 L486.60,265.60 A13.20,13.20 0 0 0 499.80,252.40" fill="none" stroke="#555" stroke-width="0.7" />
<path d="M550.60,252.40 L550.60,265.00 A12.60,12.60 0 0 0 563.20,252.40" fill="none" stroke="#555" stroke-width="0.7" />
<path d="M577.40,252.40 L566.52,261.53 A14.20,14.20 0 0 1 563.20,252.40" fill="none" stroke="#555" stroke-width="0.7" />
<path d="M595.00,252.40 L595.00,265.40 A13.00,13.00 0 0 0 608.00,252.40" fill="none" stroke="#555" stroke-width="0.7" />
<path d="M621.80,252.40 L611.23,261.27 A13.80,13.80 0 0 1 608.00,252.40" fill="none" stroke="#555" stroke-width="0.7" />
<path d="M635.00,252.40 L635.00,265.40 A13.00,13.00 0 0 0 648.00,252.40" fill="none" stroke="#555" stroke-width="0.7" />
<path d="M661.80,252.40 L651.23,261.27 A13.80,13.80 0 0 1 648.00,252.40" fill="none" stroke="#555" stroke-width="0.7" />
<path d="M676.30,252.40 L676.30,265.60 A13.20,13.20 0 0 0 689.50,252.40" fill="none" stroke="#555" stroke-width="0.7" />
<path d="M702.80,252.40 L692.61,260.95 A13.30,13.30 0 0 1 689.50,252.40" fill="none" stroke="#555" stroke-width="0.7" />
<path d="M88.30,511.40 L88.30,498.10 A13.30,13.30 0 0 0 75.00,511.40" fill="none" stroke="#555" stroke-width="0.7" />
<path d="M110.60,511.40 L110.60,498.40 A13.00,13.00 0 0 1 123.60,511.40" fill="none" stroke="#555" stroke-width="0.7" />
<path d="M137.60,511.40 L126.88,502.40 A14.00,14.00 0 0 0 123.60,511.40" fill="none" stroke="#555" stroke-width="0.7" />
<path d="M161.20,511.40 L161.20,497.80 A13.60,13.60 0 0 1 174.80,511.40" fill="none" stroke="#555" stroke-width="0.7" />
<path d="M223.00,511.40 L223.00,497.60 A13.80,13.80 0 0 1 236.80,511.40" fill="none" stroke="#555" stroke-width="0.7" />
<path d="M249.50,511.40 L239.77,503.24 A12.70,12.70 0 0 0 236.80,511.40" fill="none" stroke="#555" stroke-width="0.7" />
<path d="M293.30,511.40 L293.30,497.90 A13.50,13.50 0 0 0 279.80,511.40" fill="none" stroke="#555" stroke-width="0.7" />
<path d="M267.20,511.40 L276.85,503.30 A12.60,12.60 0 0 1 279.80,511.40" fill="none" stroke="#555" stroke-width="0.7" />
<path d="M346.40,511.40 L346.40,499.60 A11.80,11.80 0 0 0 334.60,511.40" fill="none" stroke="#555" stroke-width="0.7" />
<path d="M389.00,511.40 L389.00,497.90 A13.50,13.50 0 0 0 375.50,511.40" fill="none" stroke="#555" stroke-width="0.7" />
<path d="M362.40,511.40 L372.44,502.98 A13.10,13.10 0 0 1 375.50,511.40" fill="none" stroke="#555" stroke-width="0.7" />
<path d="M457.00,511.40 L457.00,499.00 A12.40,12.40 0 0 0 444.60,511.40" fill="none" stroke="#555" stroke-width="0.7" />
<path d="M485.60,511.40 L485.60,498.40 A13.00,13.00 0 0 1 498.60,511.40" fill="none" stroke="#555" stroke-width="0.7" />
<path d="M550.00,511.40 L550.00,498.20 A13.20,13.20 0 0 1 563.20,511.40" fill="none" stroke="#555" stroke-width="0.7" />
<path d="M577.40,511.40 L566.52,502.27 A14.20,14.20 0 0 0 563.20,511.40" fill="none" stroke="#555" stroke-width="0.7" />
<path d="M621.80,511.40 L621.80,497.60 A13.80,13.80 0 0 0 608.00,511.40" fill="none" stroke="#555" stroke-width="0.7" />
<path d="M594.60,511.40 L604.86,502.79 A13.40,13.40 0 0 1 608.00,511.40" fill="none" stroke="#555" stroke-width="0.7" />
<path d="M661.30,511.40 L661.30,498.10 A13.30,13.30 0 0 0 648.00,511.40" fill="none" stroke="#555" stroke-width="0.7" />
<path d="M634.60,511.40 L644.86,502.79 A13.40,13.40 0 0 1 648.00,511.40" fill="none" stroke="#555" stroke-width="0.7" />
<path d="M677.20,511.40 L677.20,497.90 A13.50,13.50 0 0 1 690.70,511.40" fill="none" stroke="#555" stroke-width="0.7" />
<path d="M702.80,511.40 L693.53,503.62 A12.10,12.10 0 0 0 690.70,511.40" fill="none" stroke="#555" stroke-width="0.7" />
<text x="65.50" y="276.30" font-size="10.9" text-anchor="middle" fill="#111" font-weight="normal" stroke="#111" stroke-width="0.25">2+kk</text>
<text x="65.50" y="290.10" font-size="10.9" text-anchor="middle" fill="#111" font-weight="normal" stroke="#111" stroke-width="0.25">110</text>
<text x="182.70" y="276.30" font-size="10.9" text-anchor="middle" fill="#111" font-weight="normal" stroke="#111" stroke-width="0.25">2+kk</text>
<text x="182.70" y="290.10" font-size="10.9" text-anchor="middle" fill="#111" font-weight="normal" stroke="#111" stroke-width="0.25">111</text>
<text x="436.20" y="276.30" font-size="10.9" text-anchor="middle" fill="#111" font-weight="normal" stroke="#111" stroke-width="0.25">2+kk</text>
<text x="436.20" y="290.10" font-size="10.9" text-anchor="middle" fill="#111" font-weight="normal" stroke="#111" stroke-width="0.25">101</text>
<text x="511.00" y="276.30" font-size="10.9" text-anchor="middle" fill="#111" font-weight="normal" stroke="#111" stroke-width="0.25">2+kk</text>
<text x="511.00" y="290.10" font-size="10.9" text-anchor="middle" fill="#111" font-weight="normal" stroke="#111" stroke-width="0.25">102</text>
<text x="699.00" y="276.30" font-size="10.9" text-anchor="middle" fill="#111" font-weight="normal" stroke="#111" stroke-width="0.25">4+kk</text>
<text x="699.00" y="290.10" font-size="10.9" text-anchor="middle" fill="#111" font-weight="normal" stroke="#111" stroke-width="0.25">103</text>
<text x="69.40" y="480.10" font-size="10.9" text-anchor="middle" fill="#111" font-weight="normal" stroke="#111" stroke-width="0.25">109</text>
<text x="69.40" y="494.60" font-size="10.9" text-anchor="middle" fill="#111" font-weight="normal" stroke="#111" stroke-width="0.25">2+kk</text>
<text x="183.00" y="480.10" font-size="10.9" text-anchor="middle" fill="#111" font-weight="normal" stroke="#111" stroke-width="0.25">108</text>
<text x="183.00" y="494.60" font-size="10.9" text-anchor="middle" fill="#111" font-weight="normal" stroke="#111" stroke-width="0.25">2+kk</text>
<text x="324.00" y="480.10" font-size="10.9" text-anchor="middle" fill="#111" font-weight="normal" stroke="#111" stroke-width="0.25">107</text>
<text x="324.00" y="494.60" font-size="10.9" text-anchor="middle" fill="#111" font-weight="normal" stroke="#111" stroke-width="0.25">2+kk</text>
<text x="432.30" y="480.10" font-size="10.9" text-anchor="middle" fill="#111" font-weight="normal" stroke="#111" stroke-width="0.25">106</text>
<text x="432.30" y="494.60" font-size="10.9" text-anchor="middle" fill="#111" font-weight="normal" stroke="#111" stroke-width="0.25">2+kk</text>
<text x="511.00" y="480.10" font-size="10.9" text-anchor="middle" fill="#111" font-weight="normal" stroke="#111" stroke-width="0.25">105</text>
<text x="511.00" y="494.60" font-size="10.9" text-anchor="middle" fill="#111" font-weight="normal" stroke="#111" stroke-width="0.25">2+kk</text>
<text x="699.00" y="480.10" font-size="10.9" text-anchor="middle" fill="#111" font-weight="normal" stroke="#111" stroke-width="0.25">104</text>
<text x="699.00" y="494.60" font-size="10.9" text-anchor="middle" fill="#111" font-weight="normal" stroke="#111" stroke-width="0.25">4+kk</text>
<text x="90.50" y="198.30" font-size="6.1" text-anchor="middle" fill="#222" font-weight="normal" stroke="#222" stroke-width="0.3">57,4 + 22,4 m<tspan font-size="3.4" dy="-2.4">2</tspan></text>
<text x="201.50" y="198.30" font-size="6.1" text-anchor="middle" fill="#222" font-weight="normal" stroke="#222" stroke-width="0.3">58,1 + 21,0 m<tspan font-size="3.4" dy="-2.4">2</tspan></text>
<text x="411.70" y="198.30" font-size="6.1" text-anchor="middle" fill="#222" font-weight="normal" stroke="#222" stroke-width="0.3">55,9 + 22,2 m<tspan font-size="3.4" dy="-2.4">2</tspan></text>
<text x="531.00" y="155.30" font-size="6.1" text-anchor="middle" fill="#222" font-weight="normal" stroke="#222" stroke-width="0.3">45,7 + 38,5 m<tspan font-size="3.4" dy="-2.4">2</tspan></text>
<text x="662.30" y="155.30" font-size="6.1" text-anchor="middle" fill="#222" font-weight="normal" stroke="#222" stroke-width="0.3">82,3 + 6,0 + 52,5 m<tspan font-size="3.4" dy="-2.4">2</tspan></text>
<text x="90.30" y="572.10" font-size="6.1" text-anchor="middle" fill="#222" font-weight="normal" stroke="#222" stroke-width="0.3">57,4 + 21,9 m<tspan font-size="3.4" dy="-2.4">2</tspan></text>
<text x="201.20" y="572.10" font-size="6.1" text-anchor="middle" fill="#222" font-weight="normal" stroke="#222" stroke-width="0.3">47,9 + 19,7 m<tspan font-size="3.4" dy="-2.4">2</tspan></text>
<text x="304.70" y="572.10" font-size="6.1" text-anchor="middle" fill="#222" font-weight="normal" stroke="#222" stroke-width="0.3">47,9 + 19,7 m<tspan font-size="3.4" dy="-2.4">2</tspan></text>
<text x="414.00" y="572.10" font-size="6.1" text-anchor="middle" fill="#222" font-weight="normal" stroke="#222" stroke-width="0.3">54,7 + 22,0 m<tspan font-size="3.4" dy="-2.4">2</tspan></text>
<text x="530.00" y="617.80" font-size="6.1" text-anchor="middle" fill="#222" font-weight="normal" stroke="#222" stroke-width="0.3">45,7 + 41,3 m<tspan font-size="3.4" dy="-2.4">2</tspan></text>
<text x="664.50" y="617.80" font-size="6.1" text-anchor="middle" fill="#222" font-weight="normal" stroke="#222" stroke-width="0.3">82,3 + 6,0 + 55,9 m<tspan font-size="3.4" dy="-2.4">2</tspan></text>
<rect x="810.50" y="276.80" width="140.50" height="54.20" fill="#fff" />
<rect x="810.50" y="276.80" width="140.50" height="38.00" fill="none" stroke="#a8a8a8" stroke-width="0.5" rx="0"/>
<rect x="774.50" y="305.00" width="36.00" height="26.00" fill="#f3f3f3" />
<path d="M774,304.8 L810.5,304.8 M774,304.8 L780,331 M774.5,307.5 L810.5,307.5 M775.2,310.2 L810.5,310.2 M775.8,313 L810.5,313 M776.5,316 L800,316 M781,316 L781,331 M787,316 L787,331 M793,316 L793,331 M799,316 L799,331" fill="none" stroke="#9a9a9a" stroke-width="0.5" />
<rect x="800.00" y="313.00" width="10.50" height="18.00" fill="#e0e0e0" />
<rect x="815.30" y="281.30" width="6.40" height="9.30" fill="#fff" stroke="#3c3c3c" stroke-width="0.8" rx="0"/>
<line x1="818.50" y1="281.30" x2="818.50" y2="290.60" stroke="#3c3c3c" stroke-width="0.7" />
<line x1="811.30" y1="291.20" x2="825.00" y2="291.20" stroke="#2e2e2e" stroke-width="1.0" />
<rect x="840.00" y="281.30" width="6.40" height="9.30" fill="#fff" stroke="#3c3c3c" stroke-width="0.8" rx="0"/>
<line x1="843.20" y1="281.30" x2="843.20" y2="290.60" stroke="#3c3c3c" stroke-width="0.7" />
<line x1="836.00" y1="291.20" x2="849.70" y2="291.20" stroke="#2e2e2e" stroke-width="1.0" />
<rect x="872.30" y="281.30" width="6.40" height="9.30" fill="#fff" stroke="#3c3c3c" stroke-width="0.8" rx="0"/>
<line x1="875.50" y1="281.30" x2="875.50" y2="290.60" stroke="#3c3c3c" stroke-width="0.7" />
<line x1="868.30" y1="291.20" x2="882.00" y2="291.20" stroke="#2e2e2e" stroke-width="1.0" />
<rect x="898.00" y="281.30" width="6.40" height="9.30" fill="#fff" stroke="#3c3c3c" stroke-width="0.8" rx="0"/>
<line x1="901.20" y1="281.30" x2="901.20" y2="290.60" stroke="#3c3c3c" stroke-width="0.7" />
<line x1="894.00" y1="291.20" x2="907.70" y2="291.20" stroke="#2e2e2e" stroke-width="1.0" />
<rect x="910.90" y="281.30" width="6.40" height="9.30" fill="#fff" stroke="#3c3c3c" stroke-width="0.8" rx="0"/>
<line x1="914.10" y1="281.30" x2="914.10" y2="290.60" stroke="#3c3c3c" stroke-width="0.7" />
<line x1="906.90" y1="291.20" x2="920.60" y2="291.20" stroke="#2e2e2e" stroke-width="1.0" />
<rect x="827.40" y="281.30" width="6.30" height="5.60" fill="#fff" stroke="#3c3c3c" stroke-width="0.8" rx="0"/>
<line x1="830.55" y1="281.30" x2="830.55" y2="286.90" stroke="#3c3c3c" stroke-width="0.6" />
<line x1="827.40" y1="283.90" x2="833.70" y2="283.90" stroke="#3c3c3c" stroke-width="0.5" />
<rect x="827.20" y="287.30" width="6.70" height="3.30" fill="#8c8c8c" />
<rect x="852.00" y="281.30" width="6.00" height="5.60" fill="#fff" stroke="#3c3c3c" stroke-width="0.8" rx="0"/>
<line x1="855.00" y1="281.30" x2="855.00" y2="286.90" stroke="#3c3c3c" stroke-width="0.6" />
<line x1="852.00" y1="283.90" x2="858.00" y2="283.90" stroke="#3c3c3c" stroke-width="0.5" />
<rect x="851.80" y="287.30" width="6.40" height="3.30" fill="#8c8c8c" />
<rect x="862.00" y="281.30" width="6.00" height="5.60" fill="#fff" stroke="#3c3c3c" stroke-width="0.8" rx="0"/>
<line x1="865.00" y1="281.30" x2="865.00" y2="286.90" stroke="#3c3c3c" stroke-width="0.6" />
<line x1="862.00" y1="283.90" x2="868.00" y2="283.90" stroke="#3c3c3c" stroke-width="0.5" />
<rect x="861.80" y="287.30" width="6.40" height="3.30" fill="#8c8c8c" />
<rect x="882.80" y="281.30" width="6.10" height="5.60" fill="#fff" stroke="#3c3c3c" stroke-width="0.8" rx="0"/>
<line x1="885.85" y1="281.30" x2="885.85" y2="286.90" stroke="#3c3c3c" stroke-width="0.6" />
<line x1="882.80" y1="283.90" x2="888.90" y2="283.90" stroke="#3c3c3c" stroke-width="0.5" />
<rect x="882.60" y="287.30" width="6.50" height="3.30" fill="#8c8c8c" />
<rect x="928.00" y="281.30" width="5.90" height="5.60" fill="#fff" stroke="#3c3c3c" stroke-width="0.8" rx="0"/>
<line x1="930.95" y1="281.30" x2="930.95" y2="286.90" stroke="#3c3c3c" stroke-width="0.6" />
<line x1="928.00" y1="283.90" x2="933.90" y2="283.90" stroke="#3c3c3c" stroke-width="0.5" />
<rect x="927.80" y="287.30" width="6.30" height="3.30" fill="#8c8c8c" />
<rect x="813.80" y="293.30" width="9.40" height="9.20" fill="#fff" stroke="#3c3c3c" stroke-width="0.8" rx="0"/>
<line x1="816.90" y1="293.30" x2="816.90" y2="302.50" stroke="#3c3c3c" stroke-width="0.7" />
<line x1="820.30" y1="293.30" x2="820.30" y2="302.50" stroke="#3c3c3c" stroke-width="0.7" />
<line x1="811.30" y1="303.10" x2="825.00" y2="303.10" stroke="#2e2e2e" stroke-width="1.0" />
<rect x="838.50" y="293.30" width="9.40" height="9.20" fill="#fff" stroke="#3c3c3c" stroke-width="0.8" rx="0"/>
<line x1="841.60" y1="293.30" x2="841.60" y2="302.50" stroke="#3c3c3c" stroke-width="0.7" />
<line x1="845.00" y1="293.30" x2="845.00" y2="302.50" stroke="#3c3c3c" stroke-width="0.7" />
<line x1="836.00" y1="303.10" x2="849.70" y2="303.10" stroke="#2e2e2e" stroke-width="1.0" />
<rect x="870.80" y="293.30" width="9.40" height="9.20" fill="#fff" stroke="#3c3c3c" stroke-width="0.8" rx="0"/>
<line x1="873.90" y1="293.30" x2="873.90" y2="302.50" stroke="#3c3c3c" stroke-width="0.7" />
<line x1="877.30" y1="293.30" x2="877.30" y2="302.50" stroke="#3c3c3c" stroke-width="0.7" />
<line x1="868.30" y1="303.10" x2="882.00" y2="303.10" stroke="#2e2e2e" stroke-width="1.0" />
<rect x="896.50" y="293.30" width="9.40" height="9.20" fill="#fff" stroke="#3c3c3c" stroke-width="0.8" rx="0"/>
<line x1="899.60" y1="293.30" x2="899.60" y2="302.50" stroke="#3c3c3c" stroke-width="0.7" />
<line x1="903.00" y1="293.30" x2="903.00" y2="302.50" stroke="#3c3c3c" stroke-width="0.7" />
<line x1="894.00" y1="303.10" x2="907.70" y2="303.10" stroke="#2e2e2e" stroke-width="1.0" />
<rect x="909.40" y="293.30" width="9.40" height="9.20" fill="#fff" stroke="#3c3c3c" stroke-width="0.8" rx="0"/>
<line x1="912.50" y1="293.30" x2="912.50" y2="302.50" stroke="#3c3c3c" stroke-width="0.7" />
<line x1="915.90" y1="293.30" x2="915.90" y2="302.50" stroke="#3c3c3c" stroke-width="0.7" />
<line x1="906.90" y1="303.10" x2="920.60" y2="303.10" stroke="#2e2e2e" stroke-width="1.0" />
<rect x="827.40" y="293.30" width="6.30" height="5.60" fill="#fff" stroke="#3c3c3c" stroke-width="0.8" rx="0"/>
<line x1="830.55" y1="293.30" x2="830.55" y2="298.90" stroke="#3c3c3c" stroke-width="0.6" />
<line x1="827.40" y1="295.90" x2="833.70" y2="295.90" stroke="#3c3c3c" stroke-width="0.5" />
<rect x="827.20" y="299.30" width="6.70" height="3.20" fill="#8c8c8c" />
<rect x="852.00" y="293.30" width="6.00" height="5.60" fill="#fff" stroke="#3c3c3c" stroke-width="0.8" rx="0"/>
<line x1="855.00" y1="293.30" x2="855.00" y2="298.90" stroke="#3c3c3c" stroke-width="0.6" />
<line x1="852.00" y1="295.90" x2="858.00" y2="295.90" stroke="#3c3c3c" stroke-width="0.5" />
<rect x="851.80" y="299.30" width="6.40" height="3.20" fill="#8c8c8c" />
<rect x="862.00" y="293.30" width="6.00" height="5.60" fill="#fff" stroke="#3c3c3c" stroke-width="0.8" rx="0"/>
<line x1="865.00" y1="293.30" x2="865.00" y2="298.90" stroke="#3c3c3c" stroke-width="0.6" />
<line x1="862.00" y1="295.90" x2="868.00" y2="295.90" stroke="#3c3c3c" stroke-width="0.5" />
<rect x="861.80" y="299.30" width="6.40" height="3.20" fill="#8c8c8c" />
<rect x="882.80" y="293.30" width="6.10" height="5.60" fill="#fff" stroke="#3c3c3c" stroke-width="0.8" rx="0"/>
<line x1="885.85" y1="293.30" x2="885.85" y2="298.90" stroke="#3c3c3c" stroke-width="0.6" />
<line x1="882.80" y1="295.90" x2="888.90" y2="295.90" stroke="#3c3c3c" stroke-width="0.5" />
<rect x="882.60" y="299.30" width="6.50" height="3.20" fill="#8c8c8c" />
<rect x="924.40" y="293.30" width="5.40" height="5.60" fill="#fff" stroke="#3c3c3c" stroke-width="0.8" rx="0"/>
<line x1="927.10" y1="293.30" x2="927.10" y2="298.90" stroke="#3c3c3c" stroke-width="0.6" />
<line x1="924.40" y1="295.90" x2="929.80" y2="295.90" stroke="#3c3c3c" stroke-width="0.5" />
<rect x="924.20" y="299.30" width="5.80" height="3.20" fill="#8c8c8c" />
<rect x="934.10" y="293.30" width="5.80" height="5.60" fill="#fff" stroke="#3c3c3c" stroke-width="0.8" rx="0"/>
<line x1="937.00" y1="293.30" x2="937.00" y2="298.90" stroke="#3c3c3c" stroke-width="0.6" />
<line x1="934.10" y1="295.90" x2="939.90" y2="295.90" stroke="#3c3c3c" stroke-width="0.5" />
<rect x="933.90" y="299.30" width="6.20" height="3.20" fill="#8c8c8c" />
<rect x="813.80" y="305.20" width="9.40" height="9.00" fill="#fff" stroke="#3c3c3c" stroke-width="0.8" rx="0"/>
<line x1="816.90" y1="305.20" x2="816.90" y2="314.20" stroke="#3c3c3c" stroke-width="0.7" />
<line x1="820.30" y1="305.20" x2="820.30" y2="314.20" stroke="#3c3c3c" stroke-width="0.7" />
<rect x="838.50" y="305.20" width="9.40" height="9.00" fill="#fff" stroke="#3c3c3c" stroke-width="0.8" rx="0"/>
<line x1="841.60" y1="305.20" x2="841.60" y2="314.20" stroke="#3c3c3c" stroke-width="0.7" />
<line x1="845.00" y1="305.20" x2="845.00" y2="314.20" stroke="#3c3c3c" stroke-width="0.7" />
<rect x="870.80" y="305.20" width="9.40" height="9.00" fill="#fff" stroke="#3c3c3c" stroke-width="0.8" rx="0"/>
<line x1="873.90" y1="305.20" x2="873.90" y2="314.20" stroke="#3c3c3c" stroke-width="0.7" />
<line x1="877.30" y1="305.20" x2="877.30" y2="314.20" stroke="#3c3c3c" stroke-width="0.7" />
<rect x="896.50" y="305.20" width="9.40" height="9.00" fill="#fff" stroke="#3c3c3c" stroke-width="0.8" rx="0"/>
<line x1="899.60" y1="305.20" x2="899.60" y2="314.20" stroke="#3c3c3c" stroke-width="0.7" />
<line x1="903.00" y1="305.20" x2="903.00" y2="314.20" stroke="#3c3c3c" stroke-width="0.7" />
<rect x="909.40" y="305.20" width="9.40" height="9.00" fill="#fff" stroke="#3c3c3c" stroke-width="0.8" rx="0"/>
<line x1="912.50" y1="305.20" x2="912.50" y2="314.20" stroke="#3c3c3c" stroke-width="0.7" />
<line x1="915.90" y1="305.20" x2="915.90" y2="314.20" stroke="#3c3c3c" stroke-width="0.7" />
<rect x="827.40" y="305.20" width="6.30" height="5.60" fill="#fff" stroke="#3c3c3c" stroke-width="0.8" rx="0"/>
<line x1="830.55" y1="305.20" x2="830.55" y2="310.80" stroke="#3c3c3c" stroke-width="0.6" />
<line x1="827.40" y1="307.80" x2="833.70" y2="307.80" stroke="#3c3c3c" stroke-width="0.5" />
<rect x="827.20" y="311.20" width="6.70" height="3.00" fill="#8c8c8c" />
<rect x="852.00" y="305.20" width="6.00" height="5.60" fill="#fff" stroke="#3c3c3c" stroke-width="0.8" rx="0"/>
<line x1="855.00" y1="305.20" x2="855.00" y2="310.80" stroke="#3c3c3c" stroke-width="0.6" />
<line x1="852.00" y1="307.80" x2="858.00" y2="307.80" stroke="#3c3c3c" stroke-width="0.5" />
<rect x="851.80" y="311.20" width="6.40" height="3.00" fill="#8c8c8c" />
<rect x="862.00" y="305.20" width="6.00" height="5.60" fill="#fff" stroke="#3c3c3c" stroke-width="0.8" rx="0"/>
<line x1="865.00" y1="305.20" x2="865.00" y2="310.80" stroke="#3c3c3c" stroke-width="0.6" />
<line x1="862.00" y1="307.80" x2="868.00" y2="307.80" stroke="#3c3c3c" stroke-width="0.5" />
<rect x="861.80" y="311.20" width="6.40" height="3.00" fill="#8c8c8c" />
<rect x="882.80" y="305.20" width="6.10" height="5.60" fill="#fff" stroke="#3c3c3c" stroke-width="0.8" rx="0"/>
<line x1="885.85" y1="305.20" x2="885.85" y2="310.80" stroke="#3c3c3c" stroke-width="0.6" />
<line x1="882.80" y1="307.80" x2="888.90" y2="307.80" stroke="#3c3c3c" stroke-width="0.5" />
<rect x="882.60" y="311.20" width="6.50" height="3.00" fill="#8c8c8c" />
<rect x="924.40" y="305.20" width="5.40" height="5.60" fill="#fff" stroke="#3c3c3c" stroke-width="0.8" rx="0"/>
<line x1="927.10" y1="305.20" x2="927.10" y2="310.80" stroke="#3c3c3c" stroke-width="0.6" />
<line x1="924.40" y1="307.80" x2="929.80" y2="307.80" stroke="#3c3c3c" stroke-width="0.5" />
<rect x="924.20" y="311.20" width="5.80" height="3.00" fill="#8c8c8c" />
<rect x="934.10" y="305.20" width="5.80" height="5.60" fill="#fff" stroke="#3c3c3c" stroke-width="0.8" rx="0"/>
<line x1="937.00" y1="305.20" x2="937.00" y2="310.80" stroke="#3c3c3c" stroke-width="0.6" />
<line x1="934.10" y1="307.80" x2="939.90" y2="307.80" stroke="#3c3c3c" stroke-width="0.5" />
<rect x="933.90" y="311.20" width="6.20" height="3.00" fill="#8c8c8c" />
<rect x="943.10" y="305.20" width="5.40" height="5.60" fill="#fff" stroke="#3c3c3c" stroke-width="0.8" rx="0"/>
<line x1="945.80" y1="305.20" x2="945.80" y2="310.80" stroke="#3c3c3c" stroke-width="0.6" />
<rect x="942.90" y="311.20" width="5.80" height="3.00" fill="#8c8c8c" />
<rect x="951.70" y="305.20" width="5.80" height="5.60" fill="#fff" stroke="#3c3c3c" stroke-width="0.8" rx="0"/>
<line x1="954.60" y1="305.20" x2="954.60" y2="310.80" stroke="#3c3c3c" stroke-width="0.6" />
<rect x="951.50" y="311.20" width="6.20" height="3.00" fill="#8c8c8c" />
<path d="M951,281 L958,281 L958,290 L951,290 M958,285 L961,285 L961,292 M960,292 L963,292 L963,302 M962,300 L966,300 L966,312 M964,308 L969,308 L969,316" fill="none" stroke="#a0a0a0" stroke-width="0.5" />
<rect x="951.30" y="281.30" width="6.50" height="8.50" fill="#fff" />
<line x1="958.50" y1="290.00" x2="958.50" y2="331.00" stroke="#777" stroke-width="0.5" />
<line x1="963.00" y1="300.00" x2="963.00" y2="331.00" stroke="#777" stroke-width="0.5" />
<rect x="811.00" y="314.90" width="157.00" height="11.50" fill="#1f66ac" />
<rect x="968.00" y="320.50" width="2.30" height="5.90" fill="#1f66ac" />
<rect x="811.50" y="325.20" width="13.50" height="1.20" fill="#174f88" />
<rect x="814.00" y="316.50" width="9.00" height="8.50" fill="#1c5e9f" />
<rect x="836.20" y="325.20" width="13.50" height="1.20" fill="#174f88" />
<rect x="838.70" y="316.50" width="9.00" height="8.50" fill="#1c5e9f" />
<rect x="868.50" y="325.20" width="13.50" height="1.20" fill="#174f88" />
<rect x="871.00" y="316.50" width="9.00" height="8.50" fill="#1c5e9f" />
<rect x="894.20" y="325.20" width="13.50" height="1.20" fill="#174f88" />
<rect x="896.70" y="316.50" width="9.00" height="8.50" fill="#1c5e9f" />
<rect x="907.10" y="325.20" width="13.50" height="1.20" fill="#174f88" />
<rect x="909.60" y="316.50" width="9.00" height="8.50" fill="#1c5e9f" />
<line x1="772.00" y1="331.00" x2="981.00" y2="331.00" stroke="#b0b0b0" stroke-width="0.6" />
<path d="M923.76,431.80 L975.97,432.23 L977.47,470.90 L969.96,477.77 L979.62,500.98 L974.68,502.27 L961.79,482.72 L950.62,494.53 L948.04,501.41 L923.76,501.41 Z" fill="#e8edc2" stroke="none" stroke-width="0" />
<path d="M860.38,450.49 L893.68,450.49 L893.68,507.42 L844.27,507.42 L843.20,494.53 L860.38,492.38 Z" fill="#e8edc2" stroke="none" stroke-width="0" />
<path d="M827.08,489.81 L843.20,487.01 L845.77,509.14 L830.73,507.42 Z" fill="#e8edc2" stroke="none" stroke-width="0" />
<path d="M828.16,435.45 L892.61,435.45 L892.61,440.82 L828.16,440.82 Z" fill="#e8edc2" stroke="none" stroke-width="0" />
<rect x="875.42" y="424.06" width="19.77" height="8.16" fill="#dadada" />
<rect x="891.54" y="421.48" width="30.08" height="10.74" fill="#dadada" />
<rect x="928.06" y="419.34" width="19.34" height="9.67" fill="#dadada" />
<rect x="846.42" y="499.90" width="22.56" height="7.52" fill="#dadada" />
<rect x="872.63" y="499.90" width="15.68" height="6.45" fill="#c9c9c9" />
<rect x="902.28" y="499.90" width="16.11" height="7.52" fill="#c9c9c9" />
<rect x="923.76" y="501.41" width="22.56" height="7.09" fill="#dadada" />
<path d="M957.06,494.53 L962.44,491.31 L965.66,498.83 L959.64,502.70 Z" fill="#dadada" stroke="none" stroke-width="0" />
<path d="M802.38,432.23 L828.16,432.23 L923.12,433.95 L923.12,437.38 L828.16,436.52 L807.10,442.11 L803.45,439.96 Z" fill="#c9c9c9" stroke="none" stroke-width="0" />
<path d="M827.08,439.75 L862.53,439.75 L862.53,492.38 L846.42,492.38 L827.08,444.04 Z" fill="#c2c2c2" stroke="none" stroke-width="0" />
<rect x="831.38" y="441.89" width="61.23" height="9.24" fill="#bcbcbc" />
<rect x="839.33" y="467.68" width="22.34" height="6.02" fill="#dadada" />
<rect x="839.33" y="476.27" width="22.34" height="6.02" fill="#dadada" />
<rect x="839.33" y="484.86" width="22.34" height="6.02" fill="#dadada" />
<path d="M809.89,454.79 L821.71,448.34 L836.75,475.20 L824.93,481.21 Z" fill="#dadada" stroke="none" stroke-width="0" />
<rect x="893.26" y="435.45" width="5.37" height="75.20" fill="#c9c9c9" />
<rect x="917.53" y="435.45" width="5.37" height="60.16" fill="#c9c9c9" />
<rect x="900.13" y="440.82" width="16.11" height="51.99" fill="#bcbcbc" />
<rect x="866.40" y="460.80" width="24.49" height="8.38" fill="#1e62a8" />
<rect x="866.83" y="480.57" width="24.06" height="8.59" fill="#bcbcbc" />
<rect x="879.72" y="452.64" width="12.46" height="2.79" fill="#bcbcbc" />
<rect x="881.87" y="474.77" width="10.31" height="2.58" fill="#bcbcbc" />
<rect x="926.99" y="440.82" width="44.04" height="9.02" fill="#bcbcbc" />
<rect x="926.99" y="460.16" width="44.04" height="9.02" fill="#bcbcbc" />
<rect x="926.99" y="480.14" width="23.63" height="9.02" fill="#bcbcbc" />
<rect x="922.69" y="444.04" width="4.30" height="2.36" fill="#bcbcbc" />
<rect x="922.69" y="463.59" width="4.30" height="2.36" fill="#bcbcbc" />
<rect x="922.69" y="483.36" width="4.30" height="2.36" fill="#bcbcbc" />
<text x="881.87" y="448.98" font-size="8.2" text-anchor="middle" fill="#111" font-weight="normal" stroke="#111" stroke-width="0.35">F1</text>
<text x="881.87" y="468.32" font-size="8.2" text-anchor="middle" fill="#0d3258" font-weight="normal" stroke="#0d3258" stroke-width="0.35">F2</text>
<text x="881.87" y="488.09" font-size="8.2" text-anchor="middle" fill="#111" font-weight="normal" stroke="#111" stroke-width="0.35">F3</text>
<text x="908.08" y="468.32" font-size="8.2" text-anchor="middle" fill="#111" font-weight="normal" stroke="#111" stroke-width="0.35">B</text>
<text x="938.16" y="448.98" font-size="8.2" text-anchor="middle" fill="#111" font-weight="normal" stroke="#111" stroke-width="0.35">C1</text>
<text x="938.16" y="468.32" font-size="8.2" text-anchor="middle" fill="#111" font-weight="normal" stroke="#111" stroke-width="0.35">C2</text>
<text x="938.16" y="488.09" font-size="8.2" text-anchor="middle" fill="#111" font-weight="normal" stroke="#111" stroke-width="0.35">C3</text>
<text x="875.42" y="523.54" font-size="8.63" text-anchor="start" fill="#111" font-weight="normal" textLength="59" stroke="#111" stroke-width="0.15">ul. Na Šibeníku</text>
<g transform="translate(799.37,458.01) rotate(61)" font-size="9.2" fill="#111" stroke="#111" stroke-width="0.15"><text x="0" y="0">ul. tř. Míru</text></g>
<g transform="translate(774.02,413.32) rotate(61)" font-size="9" fill="#111" stroke="#111" stroke-width="0.15"><text x="0" y="0">Neředín</text><text x="7.5" y="-9.5">směr</text></g>
<g transform="translate(822.14,517.74) rotate(61)" font-size="9" fill="#111" stroke="#111" stroke-width="0.15"><text x="0" y="0">centrum</text><text x="0.5" y="-9.5">směr</text></g>
<path d="M800.66,453.28 L795.56,445.07" fill="none" stroke="#111" stroke-width="1.4" />
<path d="M792.92,440.82 L798.28,443.38 L792.84,446.76 Z" fill="#111" stroke="none" stroke-width="0" />
<path d="M819.13,497.11 L823.91,505.26" fill="none" stroke="#111" stroke-width="1.4" />
<path d="M826.44,509.57 L821.15,506.88 L826.67,503.64 Z" fill="#111" stroke="none" stroke-width="0" />
<circle cx="964.58" cy="524.61" r="5.60" fill="none" stroke="#666" stroke-width="0.5"/>
<path d="M977.47,518.17 L952.34,523.54 L958.14,531.49 Z" fill="#1d63a5" stroke="none" stroke-width="0" />
<line x1="959.86" y1="513.44" x2="967.81" y2="534.92" stroke="#555" stroke-width="0.5" />
<line x1="952.77" y1="528.48" x2="977.47" y2="518.17" stroke="#555" stroke-width="0.4" />
<text x="33.80" y="607.10" font-size="10.94" fill="#111" font-weight="normal" textLength="153.20" lengthAdjust="spacingAndGlyphs" stroke="#111" stroke-width="0.2">Prodejce projektu/Project Seller</text>
<circle cx="54.00" cy="636.60" r="18.20" fill="#2a6cb0" stroke="none" stroke-width="0"/>
<circle cx="58.80" cy="655.20" r="16.80" fill="#2a6cb0" stroke="none" stroke-width="0"/>
<path d="M36.5,632 L40,660 L50,668 L60,640 Z" fill="#2a6cb0" stroke="none" stroke-width="0" />
<circle cx="51.70" cy="646.00" r="17.60" fill="#fff" stroke="none" stroke-width="0"/>
<circle cx="51.70" cy="646.00" r="16.10" fill="#f0a31c" stroke="none" stroke-width="0"/>
<path d="M40.2,657.5 C36.5,647 42.5,639.5 50.5,639.6 L50.5,635.2 L62.8,642 L51.2,649.6 L50.8,645.6 C45.5,645.6 42.5,650 44.3,657.8 Z" fill="#fff" stroke="none" stroke-width="0" />
<text x="84.40" y="649.00" font-size="24.6" fill="#e6a02a" font-weight="bold" textLength="46.10" lengthAdjust="spacingAndGlyphs" stroke="#e6a02a" stroke-width="0.5">Elite</text>
<text x="131.90" y="649.00" font-size="24.6" fill="#1f5f9f" font-weight="bold" textLength="44.60" lengthAdjust="spacingAndGlyphs" stroke="#1f5f9f" stroke-width="0.5">Real</text>
<rect x="177.60" y="632.20" width="3.80" height="16.80" fill="#e6a02a" />
<rect x="178.60" y="634.00" width="1.80" height="1.20" fill="#f6d9a0" />
<rect x="178.60" y="636.50" width="1.80" height="1.20" fill="#f6d9a0" />
<rect x="178.60" y="639.00" width="1.80" height="1.20" fill="#f6d9a0" />
<rect x="178.60" y="641.50" width="1.80" height="1.20" fill="#f6d9a0" />
<rect x="178.60" y="644.00" width="1.80" height="1.20" fill="#f6d9a0" />
<rect x="178.60" y="646.50" width="1.80" height="1.20" fill="#f6d9a0" />
<text x="104.50" y="662.80" font-size="10.7" fill="#a4a4a4" font-weight="normal" textLength="84.90" lengthAdjust="spacingAndGlyphs" >reality / developer</text>
</svg>
</body></html>
